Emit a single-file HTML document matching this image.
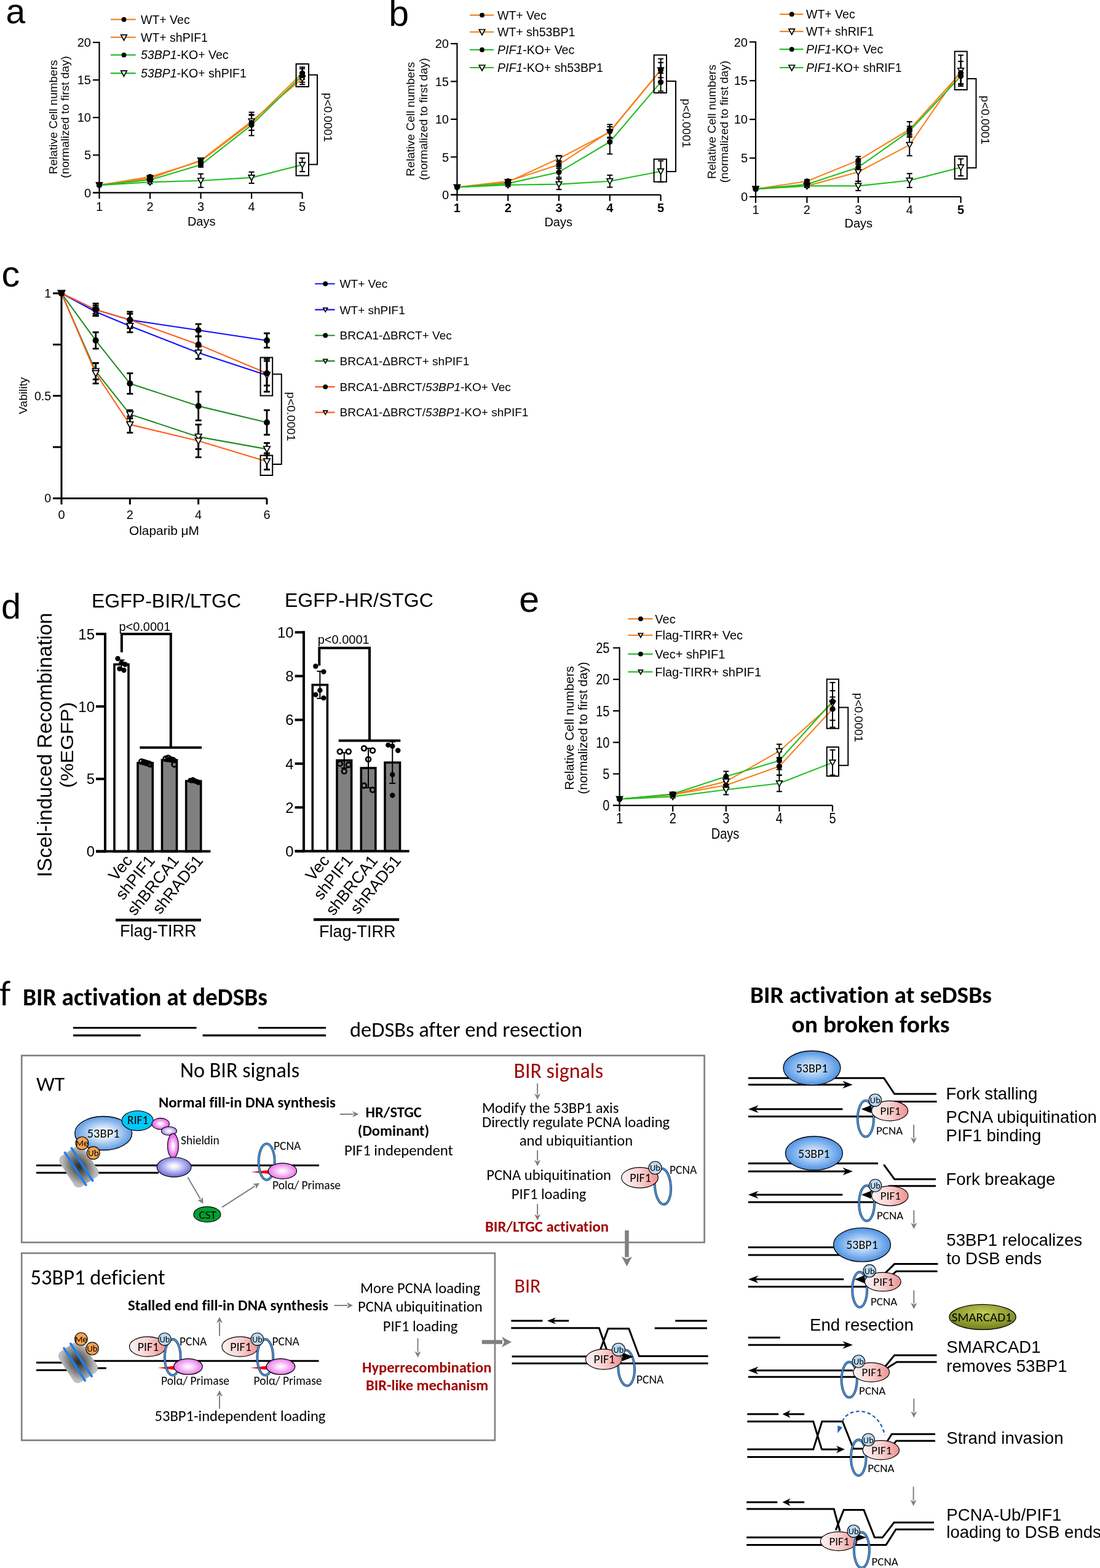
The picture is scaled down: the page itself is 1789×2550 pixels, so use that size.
<!DOCTYPE html>
<html><head><meta charset="utf-8"><title>Figure</title>
<style>
html,body{margin:0;padding:0;background:#fff;}
body{width:1789px;height:2550px;overflow:hidden;}
svg{display:block;}
</style></head>
<body>
<svg width="1789" height="2550" viewBox="0 0 1789 2550" style="font-variant-ligatures:none" font-family="'Liberation Sans', Arial, sans-serif">
<rect x="0" y="0" width="1789" height="2550" fill="#fff"/>
<defs>
<radialGradient id="g53" cx="50%" cy="50%" r="55%"><stop offset="0" stop-color="#ffffff"/><stop offset="0.25" stop-color="#e8f2fd"/><stop offset="1" stop-color="#4a8fe0"/></radialGradient>
<radialGradient id="g53b" cx="50%" cy="50%" r="55%"><stop offset="0" stop-color="#eef6ff"/><stop offset="0.3" stop-color="#b9d8fa"/><stop offset="1" stop-color="#3f88e0"/></radialGradient>
<radialGradient id="gPink" cx="50%" cy="50%" r="55%"><stop offset="0" stop-color="#ffffff"/><stop offset="0.2" stop-color="#fde8fd"/><stop offset="1" stop-color="#e040e0"/></radialGradient>
<radialGradient id="gLav" cx="50%" cy="50%" r="55%"><stop offset="0" stop-color="#ffffff"/><stop offset="0.2" stop-color="#f2eefe"/><stop offset="1" stop-color="#a47ae6"/></radialGradient>
<radialGradient id="gPurp" cx="50%" cy="45%" r="55%"><stop offset="0" stop-color="#ffffff"/><stop offset="0.2" stop-color="#eeeefe"/><stop offset="1" stop-color="#6666d8"/></radialGradient>
<radialGradient id="gPol" cx="50%" cy="50%" r="55%"><stop offset="0" stop-color="#ffffff"/><stop offset="0.2" stop-color="#fde6fd"/><stop offset="1" stop-color="#e66ae6"/></radialGradient>
<linearGradient id="gPIF" x1="0" y1="0" x2="1" y2="0"><stop offset="0" stop-color="#fdf2f2"/><stop offset="0.5" stop-color="#f9d2d2"/><stop offset="1" stop-color="#f18f8f"/></linearGradient>
<radialGradient id="gSm" cx="50%" cy="35%" r="60%"><stop offset="0" stop-color="#c4cf5a"/><stop offset="1" stop-color="#77861e"/></radialGradient>
<radialGradient id="gNuc" cx="50%" cy="50%" r="55%"><stop offset="0" stop-color="#2a2a2a"/><stop offset="0.45" stop-color="#6a6a6a"/><stop offset="1" stop-color="#bdbdbd"/></radialGradient>
</defs>
<text x="9.5" y="38" font-size="57">a</text>
<text x="632.3" y="41.5" font-size="59">b</text>
<text x="2.4" y="466" font-size="59.5">c</text>
<text x="2" y="1006" font-size="57.5">d</text>
<text x="844.3" y="995.3" font-size="59">e</text>
<polyline points="161.5,301.09 244.03,287.65 326.56,262 409.09,199.7 491.62,119.08" fill="none" stroke="#f7821b" stroke-width="2.1" stroke-linejoin="round"/>
<polyline points="161.5,301.09 244.03,290.09 326.56,260.78 409.09,197.26 491.62,127.63" fill="none" stroke="#f7821b" stroke-width="2.1" stroke-linejoin="round"/>
<polyline points="161.5,301.09 244.03,292.53 326.56,268.1 409.09,203.37 491.62,122.75" fill="none" stroke="#22bf22" stroke-width="2.1" stroke-linejoin="round"/>
<polyline points="161.5,301.09 244.03,296.2 326.56,293.76 409.09,288.87 491.62,268.1" fill="none" stroke="#22bf22" stroke-width="2.1" stroke-linejoin="round"/>
<line x1="244.03" y1="290.09" x2="244.03" y2="285.21" stroke="#000" stroke-width="2" />
<line x1="239.53" y1="290.09" x2="248.53" y2="290.09" stroke="#000" stroke-width="2" />
<line x1="239.53" y1="285.21" x2="248.53" y2="285.21" stroke="#000" stroke-width="2" />
<line x1="326.56" y1="265.66" x2="326.56" y2="258.33" stroke="#000" stroke-width="2" />
<line x1="322.06" y1="265.66" x2="331.06" y2="265.66" stroke="#000" stroke-width="2" />
<line x1="322.06" y1="258.33" x2="331.06" y2="258.33" stroke="#000" stroke-width="2" />
<line x1="409.09" y1="211.92" x2="409.09" y2="187.49" stroke="#000" stroke-width="2" />
<line x1="404.59" y1="211.92" x2="413.59" y2="211.92" stroke="#000" stroke-width="2" />
<line x1="404.59" y1="187.49" x2="413.59" y2="187.49" stroke="#000" stroke-width="2" />
<line x1="491.62" y1="128.85" x2="491.62" y2="109.31" stroke="#000" stroke-width="2" />
<line x1="487.12" y1="128.85" x2="496.12" y2="128.85" stroke="#000" stroke-width="2" />
<line x1="487.12" y1="109.31" x2="496.12" y2="109.31" stroke="#000" stroke-width="2" />
<line x1="244.03" y1="292.53" x2="244.03" y2="287.65" stroke="#000" stroke-width="2" />
<line x1="239.53" y1="292.53" x2="248.53" y2="292.53" stroke="#000" stroke-width="2" />
<line x1="239.53" y1="287.65" x2="248.53" y2="287.65" stroke="#000" stroke-width="2" />
<line x1="326.56" y1="264.44" x2="326.56" y2="257.11" stroke="#000" stroke-width="2" />
<line x1="322.06" y1="264.44" x2="331.06" y2="264.44" stroke="#000" stroke-width="2" />
<line x1="322.06" y1="257.11" x2="331.06" y2="257.11" stroke="#000" stroke-width="2" />
<line x1="409.09" y1="211.92" x2="409.09" y2="182.6" stroke="#000" stroke-width="2" />
<line x1="404.59" y1="211.92" x2="413.59" y2="211.92" stroke="#000" stroke-width="2" />
<line x1="404.59" y1="182.6" x2="413.59" y2="182.6" stroke="#000" stroke-width="2" />
<line x1="491.62" y1="137.4" x2="491.62" y2="117.86" stroke="#000" stroke-width="2" />
<line x1="487.12" y1="137.4" x2="496.12" y2="137.4" stroke="#000" stroke-width="2" />
<line x1="487.12" y1="117.86" x2="496.12" y2="117.86" stroke="#000" stroke-width="2" />
<line x1="244.03" y1="294.98" x2="244.03" y2="290.09" stroke="#000" stroke-width="2" />
<line x1="239.53" y1="294.98" x2="248.53" y2="294.98" stroke="#000" stroke-width="2" />
<line x1="239.53" y1="290.09" x2="248.53" y2="290.09" stroke="#000" stroke-width="2" />
<line x1="326.56" y1="271.77" x2="326.56" y2="264.44" stroke="#000" stroke-width="2" />
<line x1="322.06" y1="271.77" x2="331.06" y2="271.77" stroke="#000" stroke-width="2" />
<line x1="322.06" y1="264.44" x2="331.06" y2="264.44" stroke="#000" stroke-width="2" />
<line x1="409.09" y1="220.47" x2="409.09" y2="186.26" stroke="#000" stroke-width="2" />
<line x1="404.59" y1="220.47" x2="413.59" y2="220.47" stroke="#000" stroke-width="2" />
<line x1="404.59" y1="186.26" x2="413.59" y2="186.26" stroke="#000" stroke-width="2" />
<line x1="491.62" y1="133.74" x2="491.62" y2="111.75" stroke="#000" stroke-width="2" />
<line x1="487.12" y1="133.74" x2="496.12" y2="133.74" stroke="#000" stroke-width="2" />
<line x1="487.12" y1="111.75" x2="496.12" y2="111.75" stroke="#000" stroke-width="2" />
<line x1="244.03" y1="298.64" x2="244.03" y2="293.76" stroke="#000" stroke-width="2" />
<line x1="239.53" y1="298.64" x2="248.53" y2="298.64" stroke="#000" stroke-width="2" />
<line x1="239.53" y1="293.76" x2="248.53" y2="293.76" stroke="#000" stroke-width="2" />
<line x1="326.56" y1="304.75" x2="326.56" y2="282.76" stroke="#000" stroke-width="2" />
<line x1="322.06" y1="304.75" x2="331.06" y2="304.75" stroke="#000" stroke-width="2" />
<line x1="322.06" y1="282.76" x2="331.06" y2="282.76" stroke="#000" stroke-width="2" />
<line x1="409.09" y1="298.03" x2="409.09" y2="279.71" stroke="#000" stroke-width="2" />
<line x1="404.59" y1="298.03" x2="413.59" y2="298.03" stroke="#000" stroke-width="2" />
<line x1="404.59" y1="279.71" x2="413.59" y2="279.71" stroke="#000" stroke-width="2" />
<line x1="491.62" y1="279.1" x2="491.62" y2="257.11" stroke="#000" stroke-width="2" />
<line x1="487.12" y1="279.1" x2="496.12" y2="279.1" stroke="#000" stroke-width="2" />
<line x1="487.12" y1="257.11" x2="496.12" y2="257.11" stroke="#000" stroke-width="2" />
<polygon points="156.7,297.09 166.3,297.09 161.5,305.99" fill="#fff" stroke="#000" stroke-width="1.7" stroke-linejoin="miter"/>
<polygon points="239.23,286.09 248.83,286.09 244.03,294.99" fill="#fff" stroke="#000" stroke-width="1.7" stroke-linejoin="miter"/>
<polygon points="321.76,256.78 331.36,256.78 326.56,265.68" fill="#fff" stroke="#000" stroke-width="1.7" stroke-linejoin="miter"/>
<polygon points="404.29,193.26 413.89,193.26 409.09,202.16" fill="#fff" stroke="#000" stroke-width="1.7" stroke-linejoin="miter"/>
<polygon points="486.82,123.63 496.42,123.63 491.62,132.53" fill="#fff" stroke="#000" stroke-width="1.7" stroke-linejoin="miter"/>
<polygon points="156.7,297.09 166.3,297.09 161.5,305.99" fill="#fff" stroke="#000" stroke-width="1.7" stroke-linejoin="miter"/>
<polygon points="239.23,292.2 248.83,292.2 244.03,301.1" fill="#fff" stroke="#000" stroke-width="1.7" stroke-linejoin="miter"/>
<polygon points="321.76,289.76 331.36,289.76 326.56,298.66" fill="#fff" stroke="#000" stroke-width="1.7" stroke-linejoin="miter"/>
<polygon points="404.29,284.87 413.89,284.87 409.09,293.77" fill="#fff" stroke="#000" stroke-width="1.7" stroke-linejoin="miter"/>
<polygon points="486.82,264.1 496.42,264.1 491.62,273" fill="#fff" stroke="#000" stroke-width="1.7" stroke-linejoin="miter"/>
<circle cx="161.5" cy="301.09" r="4.6" fill="#000" stroke="none" stroke-width="1" />
<circle cx="244.03" cy="287.65" r="4.6" fill="#000" stroke="none" stroke-width="1" />
<circle cx="326.56" cy="262" r="4.6" fill="#000" stroke="none" stroke-width="1" />
<circle cx="409.09" cy="199.7" r="4.6" fill="#000" stroke="none" stroke-width="1" />
<circle cx="491.62" cy="119.08" r="4.6" fill="#000" stroke="none" stroke-width="1" />
<circle cx="161.5" cy="301.09" r="4.6" fill="#000" stroke="none" stroke-width="1" />
<circle cx="244.03" cy="292.53" r="4.6" fill="#000" stroke="none" stroke-width="1" />
<circle cx="326.56" cy="268.1" r="4.6" fill="#000" stroke="none" stroke-width="1" />
<circle cx="409.09" cy="203.37" r="4.6" fill="#000" stroke="none" stroke-width="1" />
<circle cx="491.62" cy="122.75" r="4.6" fill="#000" stroke="none" stroke-width="1" />
<line x1="161.5" y1="69" x2="161.5" y2="313.3" stroke="#000" stroke-width="2.2" stroke-linecap="square"/>
<line x1="151" y1="313.3" x2="491.6" y2="313.3" stroke="#000" stroke-width="2.2" />
<line x1="151" y1="313.3" x2="161.5" y2="313.3" stroke="#000" stroke-width="2.2" />
<line x1="151" y1="252.23" x2="161.5" y2="252.23" stroke="#000" stroke-width="2.2" />
<line x1="151" y1="191.15" x2="161.5" y2="191.15" stroke="#000" stroke-width="2.2" />
<line x1="151" y1="130.08" x2="161.5" y2="130.08" stroke="#000" stroke-width="2.2" />
<line x1="151" y1="69" x2="161.5" y2="69" stroke="#000" stroke-width="2.2" />
<text x="148" y="320.5" font-size="20" text-anchor="end">0</text>
<text x="148" y="259.43" font-size="20" text-anchor="end">5</text>
<text x="148" y="198.35" font-size="20" text-anchor="end">10</text>
<text x="148" y="137.28" font-size="20" text-anchor="end">15</text>
<text x="148" y="76.2" font-size="20" text-anchor="end">20</text>
<line x1="161.5" y1="313.3" x2="161.5" y2="323.3" stroke="#000" stroke-width="2.2" />
<text x="161.5" y="342.6" font-size="20" text-anchor="middle">1</text>
<line x1="244.03" y1="313.3" x2="244.03" y2="323.3" stroke="#000" stroke-width="2.2" />
<text x="244.03" y="342.6" font-size="20" text-anchor="middle">2</text>
<line x1="326.56" y1="313.3" x2="326.56" y2="323.3" stroke="#000" stroke-width="2.2" />
<text x="326.56" y="342.6" font-size="20" text-anchor="middle">3</text>
<line x1="409.09" y1="313.3" x2="409.09" y2="323.3" stroke="#000" stroke-width="2.2" />
<text x="409.09" y="342.6" font-size="20" text-anchor="middle">4</text>
<line x1="491.62" y1="313.3" x2="491.62" y2="323.3" stroke="#000" stroke-width="2.2" />
<text x="491.62" y="342.6" font-size="20" text-anchor="middle">5</text>
<text x="327.7" y="366.9" font-size="20" text-anchor="middle">Days</text>
<text x="93.5" y="190.4" font-size="19" text-anchor="middle" transform="rotate(-90 93.5 190.4)">Relative Cell numbers</text>
<text x="112" y="190.4" font-size="19" text-anchor="middle" transform="rotate(-90 112 190.4)">(normalized to first day)</text>
<rect x="481.6" y="104" width="20.4" height="37" fill="none" stroke="#000" stroke-width="2" />
<rect x="481.6" y="249" width="20.4" height="36.6" fill="none" stroke="#000" stroke-width="2" />
<polyline points="502,121.8 516,121.8 516,267.4 502,267.4" fill="none" stroke="#000" stroke-width="2" />
<text x="527" y="191" font-size="19" text-anchor="middle" transform="rotate(90 527 191)">p&lt;0.0001</text>
<line x1="180" y1="31.7" x2="220.7" y2="31.7" stroke="#f7821b" stroke-width="2.2" />
<circle cx="201.5" cy="31.7" r="3.91" fill="#000" stroke="none" stroke-width="1" />
<text x="229" y="38.72" font-size="19.5">WT+ Vec</text>
<line x1="180" y1="60.7" x2="220.7" y2="60.7" stroke="#f7821b" stroke-width="2.2" />
<polygon points="196.7,56.7 206.3,56.7 201.5,65.6" fill="#fff" stroke="#000" stroke-width="1.7" stroke-linejoin="miter"/>
<text x="229" y="67.72" font-size="19.5">WT+ shPIF1</text>
<line x1="180" y1="89.4" x2="220.7" y2="89.4" stroke="#22bf22" stroke-width="2.2" />
<circle cx="201.5" cy="89.4" r="3.91" fill="#000" stroke="none" stroke-width="1" />
<text x="229" y="96.42" font-size="19.5"><tspan font-style="italic">53BP1</tspan>-KO+ Vec</text>
<line x1="180" y1="119.2" x2="220.7" y2="119.2" stroke="#22bf22" stroke-width="2.2" />
<polygon points="196.7,115.2 206.3,115.2 201.5,124.1" fill="#fff" stroke="#000" stroke-width="1.7" stroke-linejoin="miter"/>
<text x="229" y="126.22" font-size="19.5"><tspan font-style="italic">53BP1</tspan>-KO+ shPIF1</text>
<polyline points="743.4,304.51 826.2,294.68 909,267.64 991.8,213.56 1074.6,114.02" fill="none" stroke="#f7821b" stroke-width="2.1" stroke-linejoin="round"/>
<polyline points="743.4,304.51 826.2,295.91 909,257.81 991.8,214.79 1074.6,114.02" fill="none" stroke="#f7821b" stroke-width="2.1" stroke-linejoin="round"/>
<polyline points="743.4,304.51 826.2,298.37 909,279.93 991.8,230.77 1074.6,133.68" fill="none" stroke="#22bf22" stroke-width="2.1" stroke-linejoin="round"/>
<polyline points="743.4,304.51 826.2,300.82 909,299.59 991.8,294.68 1074.6,278.7" fill="none" stroke="#22bf22" stroke-width="2.1" stroke-linejoin="round"/>
<line x1="826.2" y1="297.14" x2="826.2" y2="292.22" stroke="#000" stroke-width="2" />
<line x1="821.7" y1="297.14" x2="830.7" y2="297.14" stroke="#000" stroke-width="2" />
<line x1="821.7" y1="292.22" x2="830.7" y2="292.22" stroke="#000" stroke-width="2" />
<line x1="909" y1="273.79" x2="909" y2="261.5" stroke="#000" stroke-width="2" />
<line x1="904.5" y1="273.79" x2="913.5" y2="273.79" stroke="#000" stroke-width="2" />
<line x1="904.5" y1="261.5" x2="913.5" y2="261.5" stroke="#000" stroke-width="2" />
<line x1="991.8" y1="224.62" x2="991.8" y2="202.5" stroke="#000" stroke-width="2" />
<line x1="987.3" y1="224.62" x2="996.3" y2="224.62" stroke="#000" stroke-width="2" />
<line x1="987.3" y1="202.5" x2="996.3" y2="202.5" stroke="#000" stroke-width="2" />
<line x1="1074.6" y1="126.31" x2="1074.6" y2="101.73" stroke="#000" stroke-width="2" />
<line x1="1070.1" y1="126.31" x2="1079.1" y2="126.31" stroke="#000" stroke-width="2" />
<line x1="1070.1" y1="101.73" x2="1079.1" y2="101.73" stroke="#000" stroke-width="2" />
<line x1="826.2" y1="298.37" x2="826.2" y2="293.45" stroke="#000" stroke-width="2" />
<line x1="821.7" y1="298.37" x2="830.7" y2="298.37" stroke="#000" stroke-width="2" />
<line x1="821.7" y1="293.45" x2="830.7" y2="293.45" stroke="#000" stroke-width="2" />
<line x1="909" y1="262.72" x2="909" y2="252.89" stroke="#000" stroke-width="2" />
<line x1="904.5" y1="262.72" x2="913.5" y2="262.72" stroke="#000" stroke-width="2" />
<line x1="904.5" y1="252.89" x2="913.5" y2="252.89" stroke="#000" stroke-width="2" />
<line x1="991.8" y1="223.4" x2="991.8" y2="206.19" stroke="#000" stroke-width="2" />
<line x1="987.3" y1="223.4" x2="996.3" y2="223.4" stroke="#000" stroke-width="2" />
<line x1="987.3" y1="206.19" x2="996.3" y2="206.19" stroke="#000" stroke-width="2" />
<line x1="1074.6" y1="132.45" x2="1074.6" y2="95.58" stroke="#000" stroke-width="2" />
<line x1="1070.1" y1="132.45" x2="1079.1" y2="132.45" stroke="#000" stroke-width="2" />
<line x1="1070.1" y1="95.58" x2="1079.1" y2="95.58" stroke="#000" stroke-width="2" />
<line x1="826.2" y1="300.82" x2="826.2" y2="295.91" stroke="#000" stroke-width="2" />
<line x1="821.7" y1="300.82" x2="830.7" y2="300.82" stroke="#000" stroke-width="2" />
<line x1="821.7" y1="295.91" x2="830.7" y2="295.91" stroke="#000" stroke-width="2" />
<line x1="909" y1="288.53" x2="909" y2="271.33" stroke="#000" stroke-width="2" />
<line x1="904.5" y1="288.53" x2="913.5" y2="288.53" stroke="#000" stroke-width="2" />
<line x1="904.5" y1="271.33" x2="913.5" y2="271.33" stroke="#000" stroke-width="2" />
<line x1="991.8" y1="250.43" x2="991.8" y2="211.11" stroke="#000" stroke-width="2" />
<line x1="987.3" y1="250.43" x2="996.3" y2="250.43" stroke="#000" stroke-width="2" />
<line x1="987.3" y1="211.11" x2="996.3" y2="211.11" stroke="#000" stroke-width="2" />
<line x1="1074.6" y1="148.43" x2="1074.6" y2="118.93" stroke="#000" stroke-width="2" />
<line x1="1070.1" y1="148.43" x2="1079.1" y2="148.43" stroke="#000" stroke-width="2" />
<line x1="1070.1" y1="118.93" x2="1079.1" y2="118.93" stroke="#000" stroke-width="2" />
<line x1="826.2" y1="303.28" x2="826.2" y2="298.37" stroke="#000" stroke-width="2" />
<line x1="821.7" y1="303.28" x2="830.7" y2="303.28" stroke="#000" stroke-width="2" />
<line x1="821.7" y1="298.37" x2="830.7" y2="298.37" stroke="#000" stroke-width="2" />
<line x1="909" y1="308.2" x2="909" y2="290.99" stroke="#000" stroke-width="2" />
<line x1="904.5" y1="308.2" x2="913.5" y2="308.2" stroke="#000" stroke-width="2" />
<line x1="904.5" y1="290.99" x2="913.5" y2="290.99" stroke="#000" stroke-width="2" />
<line x1="991.8" y1="304.51" x2="991.8" y2="284.85" stroke="#000" stroke-width="2" />
<line x1="987.3" y1="304.51" x2="996.3" y2="304.51" stroke="#000" stroke-width="2" />
<line x1="987.3" y1="284.85" x2="996.3" y2="284.85" stroke="#000" stroke-width="2" />
<line x1="1074.6" y1="295.91" x2="1074.6" y2="261.5" stroke="#000" stroke-width="2" />
<line x1="1070.1" y1="295.91" x2="1079.1" y2="295.91" stroke="#000" stroke-width="2" />
<line x1="1070.1" y1="261.5" x2="1079.1" y2="261.5" stroke="#000" stroke-width="2" />
<polygon points="738.6,300.51 748.2,300.51 743.4,309.41" fill="#fff" stroke="#000" stroke-width="1.7" stroke-linejoin="miter"/>
<polygon points="821.4,291.91 831,291.91 826.2,300.81" fill="#fff" stroke="#000" stroke-width="1.7" stroke-linejoin="miter"/>
<polygon points="904.2,253.81 913.8,253.81 909,262.71" fill="#fff" stroke="#000" stroke-width="1.7" stroke-linejoin="miter"/>
<polygon points="987,210.79 996.6,210.79 991.8,219.69" fill="#fff" stroke="#000" stroke-width="1.7" stroke-linejoin="miter"/>
<polygon points="1069.8,110.02 1079.4,110.02 1074.6,118.92" fill="#fff" stroke="#000" stroke-width="1.7" stroke-linejoin="miter"/>
<polygon points="738.6,300.51 748.2,300.51 743.4,309.41" fill="#fff" stroke="#000" stroke-width="1.7" stroke-linejoin="miter"/>
<polygon points="821.4,296.82 831,296.82 826.2,305.72" fill="#fff" stroke="#000" stroke-width="1.7" stroke-linejoin="miter"/>
<polygon points="904.2,295.59 913.8,295.59 909,304.49" fill="#fff" stroke="#000" stroke-width="1.7" stroke-linejoin="miter"/>
<polygon points="987,290.68 996.6,290.68 991.8,299.58" fill="#fff" stroke="#000" stroke-width="1.7" stroke-linejoin="miter"/>
<polygon points="1069.8,274.7 1079.4,274.7 1074.6,283.6" fill="#fff" stroke="#000" stroke-width="1.7" stroke-linejoin="miter"/>
<circle cx="743.4" cy="304.51" r="4.6" fill="#000" stroke="none" stroke-width="1" />
<circle cx="826.2" cy="294.68" r="4.6" fill="#000" stroke="none" stroke-width="1" />
<circle cx="909" cy="267.64" r="4.6" fill="#000" stroke="none" stroke-width="1" />
<circle cx="991.8" cy="213.56" r="4.6" fill="#000" stroke="none" stroke-width="1" />
<circle cx="1074.6" cy="114.02" r="4.6" fill="#000" stroke="none" stroke-width="1" />
<circle cx="743.4" cy="304.51" r="4.6" fill="#000" stroke="none" stroke-width="1" />
<circle cx="826.2" cy="298.37" r="4.6" fill="#000" stroke="none" stroke-width="1" />
<circle cx="909" cy="279.93" r="4.6" fill="#000" stroke="none" stroke-width="1" />
<circle cx="991.8" cy="230.77" r="4.6" fill="#000" stroke="none" stroke-width="1" />
<circle cx="1074.6" cy="133.68" r="4.6" fill="#000" stroke="none" stroke-width="1" />
<line x1="743.4" y1="71" x2="743.4" y2="316.8" stroke="#000" stroke-width="2.2" stroke-linecap="square"/>
<line x1="733" y1="316.8" x2="1074.6" y2="316.8" stroke="#000" stroke-width="2.2" />
<line x1="733" y1="316.8" x2="743.4" y2="316.8" stroke="#000" stroke-width="2.2" />
<line x1="733" y1="255.35" x2="743.4" y2="255.35" stroke="#000" stroke-width="2.2" />
<line x1="733" y1="193.9" x2="743.4" y2="193.9" stroke="#000" stroke-width="2.2" />
<line x1="733" y1="132.45" x2="743.4" y2="132.45" stroke="#000" stroke-width="2.2" />
<line x1="733" y1="71" x2="743.4" y2="71" stroke="#000" stroke-width="2.2" />
<text x="730" y="324" font-size="20" text-anchor="end">0</text>
<text x="730" y="262.55" font-size="20" text-anchor="end">5</text>
<text x="730" y="201.1" font-size="20" text-anchor="end">10</text>
<text x="730" y="139.65" font-size="20" text-anchor="end">15</text>
<text x="730" y="78.2" font-size="20" text-anchor="end">20</text>
<line x1="743.4" y1="316.8" x2="743.4" y2="326.8" stroke="#000" stroke-width="2.2" />
<text x="743.4" y="344.8" font-size="20" text-anchor="middle" font-weight="bold">1</text>
<line x1="826.2" y1="316.8" x2="826.2" y2="326.8" stroke="#000" stroke-width="2.2" />
<text x="826.2" y="344.8" font-size="20" text-anchor="middle" font-weight="bold">2</text>
<line x1="909" y1="316.8" x2="909" y2="326.8" stroke="#000" stroke-width="2.2" />
<text x="909" y="344.8" font-size="20" text-anchor="middle" font-weight="bold">3</text>
<line x1="991.8" y1="316.8" x2="991.8" y2="326.8" stroke="#000" stroke-width="2.2" />
<text x="991.8" y="344.8" font-size="20" text-anchor="middle" font-weight="bold">4</text>
<line x1="1074.6" y1="316.8" x2="1074.6" y2="326.8" stroke="#000" stroke-width="2.2" />
<text x="1074.6" y="344.8" font-size="20" text-anchor="middle" font-weight="bold">5</text>
<text x="908.2" y="368" font-size="20" text-anchor="middle">Days</text>
<text x="674.4" y="193.7" font-size="19" text-anchor="middle" transform="rotate(-90 674.4 193.7)">Relative Cell numbers</text>
<text x="695" y="193.7" font-size="19" text-anchor="middle" transform="rotate(-90 695 193.7)">(normalized to first day)</text>
<rect x="1063.6" y="89.5" width="20.4" height="61.5" fill="none" stroke="#000" stroke-width="2" />
<rect x="1063.6" y="258.8" width="20.4" height="36.9" fill="none" stroke="#000" stroke-width="2" />
<polyline points="1084,132 1099,132 1099,279 1084,279" fill="none" stroke="#000" stroke-width="2" />
<text x="1109.5" y="200.4" font-size="19" text-anchor="middle" transform="rotate(90 1109.5 200.4)">p&lt;0.0001</text>
<line x1="764" y1="24.6" x2="803" y2="24.6" stroke="#f7821b" stroke-width="2.2" />
<circle cx="784" cy="24.6" r="3.91" fill="#000" stroke="none" stroke-width="1" />
<text x="809" y="31.62" font-size="19.5">WT+ Vec</text>
<line x1="764" y1="52" x2="803" y2="52" stroke="#f7821b" stroke-width="2.2" />
<polygon points="779.2,48 788.8,48 784,56.9" fill="#fff" stroke="#000" stroke-width="1.7" stroke-linejoin="miter"/>
<text x="809" y="59.02" font-size="19.5">WT+ sh53BP1</text>
<line x1="764" y1="81" x2="803" y2="81" stroke="#22bf22" stroke-width="2.2" />
<circle cx="784" cy="81" r="3.91" fill="#000" stroke="none" stroke-width="1" />
<text x="809" y="88.02" font-size="19.5"><tspan font-style="italic">PIF1</tspan>-KO+ Vec</text>
<line x1="764" y1="110" x2="803" y2="110" stroke="#22bf22" stroke-width="2.2" />
<polygon points="779.2,106 788.8,106 784,114.9" fill="#fff" stroke="#000" stroke-width="1.7" stroke-linejoin="miter"/>
<text x="809" y="117.02" font-size="19.5"><tspan font-style="italic">PIF1</tspan>-KO+ sh53BP1</text>
<polyline points="1229,307.42 1312.4,294.83 1395.8,260.85 1479.2,210.51 1562.6,118.64" fill="none" stroke="#f7821b" stroke-width="2.1" stroke-linejoin="round"/>
<polyline points="1229,307.42 1312.4,302.38 1395.8,279.73 1479.2,235.68 1562.6,114.86" fill="none" stroke="#f7821b" stroke-width="2.1" stroke-linejoin="round"/>
<polyline points="1229,307.42 1312.4,299.86 1395.8,272.18 1479.2,213.03 1562.6,123.67" fill="none" stroke="#22bf22" stroke-width="2.1" stroke-linejoin="round"/>
<polyline points="1229,307.42 1312.4,302.38 1395.8,302.38 1479.2,293.57 1562.6,272.18" fill="none" stroke="#22bf22" stroke-width="2.1" stroke-linejoin="round"/>
<line x1="1312.4" y1="297.35" x2="1312.4" y2="292.31" stroke="#000" stroke-width="2" />
<line x1="1307.9" y1="297.35" x2="1316.9" y2="297.35" stroke="#000" stroke-width="2" />
<line x1="1307.9" y1="292.31" x2="1316.9" y2="292.31" stroke="#000" stroke-width="2" />
<line x1="1395.8" y1="267.14" x2="1395.8" y2="254.56" stroke="#000" stroke-width="2" />
<line x1="1391.3" y1="267.14" x2="1400.3" y2="267.14" stroke="#000" stroke-width="2" />
<line x1="1391.3" y1="254.56" x2="1400.3" y2="254.56" stroke="#000" stroke-width="2" />
<line x1="1479.2" y1="223.1" x2="1479.2" y2="197.93" stroke="#000" stroke-width="2" />
<line x1="1474.7" y1="223.1" x2="1483.7" y2="223.1" stroke="#000" stroke-width="2" />
<line x1="1474.7" y1="197.93" x2="1483.7" y2="197.93" stroke="#000" stroke-width="2" />
<line x1="1562.6" y1="137.52" x2="1562.6" y2="99.76" stroke="#000" stroke-width="2" />
<line x1="1558.1" y1="137.52" x2="1567.1" y2="137.52" stroke="#000" stroke-width="2" />
<line x1="1558.1" y1="99.76" x2="1567.1" y2="99.76" stroke="#000" stroke-width="2" />
<line x1="1312.4" y1="304.9" x2="1312.4" y2="299.86" stroke="#000" stroke-width="2" />
<line x1="1307.9" y1="304.9" x2="1316.9" y2="304.9" stroke="#000" stroke-width="2" />
<line x1="1307.9" y1="299.86" x2="1316.9" y2="299.86" stroke="#000" stroke-width="2" />
<line x1="1395.8" y1="294.83" x2="1395.8" y2="264.63" stroke="#000" stroke-width="2" />
<line x1="1391.3" y1="294.83" x2="1400.3" y2="294.83" stroke="#000" stroke-width="2" />
<line x1="1391.3" y1="264.63" x2="1400.3" y2="264.63" stroke="#000" stroke-width="2" />
<line x1="1479.2" y1="253.3" x2="1479.2" y2="218.06" stroke="#000" stroke-width="2" />
<line x1="1474.7" y1="253.3" x2="1483.7" y2="253.3" stroke="#000" stroke-width="2" />
<line x1="1474.7" y1="218.06" x2="1483.7" y2="218.06" stroke="#000" stroke-width="2" />
<line x1="1562.6" y1="140.03" x2="1562.6" y2="89.69" stroke="#000" stroke-width="2" />
<line x1="1558.1" y1="140.03" x2="1567.1" y2="140.03" stroke="#000" stroke-width="2" />
<line x1="1558.1" y1="89.69" x2="1567.1" y2="89.69" stroke="#000" stroke-width="2" />
<line x1="1312.4" y1="302.38" x2="1312.4" y2="297.35" stroke="#000" stroke-width="2" />
<line x1="1307.9" y1="302.38" x2="1316.9" y2="302.38" stroke="#000" stroke-width="2" />
<line x1="1307.9" y1="297.35" x2="1316.9" y2="297.35" stroke="#000" stroke-width="2" />
<line x1="1395.8" y1="277.21" x2="1395.8" y2="267.14" stroke="#000" stroke-width="2" />
<line x1="1391.3" y1="277.21" x2="1400.3" y2="277.21" stroke="#000" stroke-width="2" />
<line x1="1391.3" y1="267.14" x2="1400.3" y2="267.14" stroke="#000" stroke-width="2" />
<line x1="1479.2" y1="220.58" x2="1479.2" y2="205.48" stroke="#000" stroke-width="2" />
<line x1="1474.7" y1="220.58" x2="1483.7" y2="220.58" stroke="#000" stroke-width="2" />
<line x1="1474.7" y1="205.48" x2="1483.7" y2="205.48" stroke="#000" stroke-width="2" />
<line x1="1562.6" y1="136.26" x2="1562.6" y2="111.09" stroke="#000" stroke-width="2" />
<line x1="1558.1" y1="136.26" x2="1567.1" y2="136.26" stroke="#000" stroke-width="2" />
<line x1="1558.1" y1="111.09" x2="1567.1" y2="111.09" stroke="#000" stroke-width="2" />
<line x1="1312.4" y1="304.9" x2="1312.4" y2="299.86" stroke="#000" stroke-width="2" />
<line x1="1307.9" y1="304.9" x2="1316.9" y2="304.9" stroke="#000" stroke-width="2" />
<line x1="1307.9" y1="299.86" x2="1316.9" y2="299.86" stroke="#000" stroke-width="2" />
<line x1="1395.8" y1="309.93" x2="1395.8" y2="294.83" stroke="#000" stroke-width="2" />
<line x1="1391.3" y1="309.93" x2="1400.3" y2="309.93" stroke="#000" stroke-width="2" />
<line x1="1391.3" y1="294.83" x2="1400.3" y2="294.83" stroke="#000" stroke-width="2" />
<line x1="1479.2" y1="304.9" x2="1479.2" y2="282.25" stroke="#000" stroke-width="2" />
<line x1="1474.7" y1="304.9" x2="1483.7" y2="304.9" stroke="#000" stroke-width="2" />
<line x1="1474.7" y1="282.25" x2="1483.7" y2="282.25" stroke="#000" stroke-width="2" />
<line x1="1562.6" y1="286.02" x2="1562.6" y2="258.33" stroke="#000" stroke-width="2" />
<line x1="1558.1" y1="286.02" x2="1567.1" y2="286.02" stroke="#000" stroke-width="2" />
<line x1="1558.1" y1="258.33" x2="1567.1" y2="258.33" stroke="#000" stroke-width="2" />
<polygon points="1224.2,303.42 1233.8,303.42 1229,312.31" fill="#fff" stroke="#000" stroke-width="1.7" stroke-linejoin="miter"/>
<polygon points="1307.6,298.38 1317.2,298.38 1312.4,307.28" fill="#fff" stroke="#000" stroke-width="1.7" stroke-linejoin="miter"/>
<polygon points="1391,275.73 1400.6,275.73 1395.8,284.63" fill="#fff" stroke="#000" stroke-width="1.7" stroke-linejoin="miter"/>
<polygon points="1474.4,231.68 1484,231.68 1479.2,240.58" fill="#fff" stroke="#000" stroke-width="1.7" stroke-linejoin="miter"/>
<polygon points="1557.8,110.86 1567.4,110.86 1562.6,119.76" fill="#fff" stroke="#000" stroke-width="1.7" stroke-linejoin="miter"/>
<polygon points="1224.2,303.42 1233.8,303.42 1229,312.31" fill="#fff" stroke="#000" stroke-width="1.7" stroke-linejoin="miter"/>
<polygon points="1307.6,298.38 1317.2,298.38 1312.4,307.28" fill="#fff" stroke="#000" stroke-width="1.7" stroke-linejoin="miter"/>
<polygon points="1391,298.38 1400.6,298.38 1395.8,307.28" fill="#fff" stroke="#000" stroke-width="1.7" stroke-linejoin="miter"/>
<polygon points="1474.4,289.57 1484,289.57 1479.2,298.47" fill="#fff" stroke="#000" stroke-width="1.7" stroke-linejoin="miter"/>
<polygon points="1557.8,268.18 1567.4,268.18 1562.6,277.08" fill="#fff" stroke="#000" stroke-width="1.7" stroke-linejoin="miter"/>
<circle cx="1229" cy="307.42" r="4.6" fill="#000" stroke="none" stroke-width="1" />
<circle cx="1312.4" cy="294.83" r="4.6" fill="#000" stroke="none" stroke-width="1" />
<circle cx="1395.8" cy="260.85" r="4.6" fill="#000" stroke="none" stroke-width="1" />
<circle cx="1479.2" cy="210.51" r="4.6" fill="#000" stroke="none" stroke-width="1" />
<circle cx="1562.6" cy="118.64" r="4.6" fill="#000" stroke="none" stroke-width="1" />
<circle cx="1229" cy="307.42" r="4.6" fill="#000" stroke="none" stroke-width="1" />
<circle cx="1312.4" cy="299.86" r="4.6" fill="#000" stroke="none" stroke-width="1" />
<circle cx="1395.8" cy="272.18" r="4.6" fill="#000" stroke="none" stroke-width="1" />
<circle cx="1479.2" cy="213.03" r="4.6" fill="#000" stroke="none" stroke-width="1" />
<circle cx="1562.6" cy="123.67" r="4.6" fill="#000" stroke="none" stroke-width="1" />
<line x1="1229" y1="68.3" x2="1229" y2="320" stroke="#000" stroke-width="2.2" stroke-linecap="square"/>
<line x1="1219" y1="320" x2="1562.6" y2="320" stroke="#000" stroke-width="2.2" />
<line x1="1219" y1="320" x2="1229" y2="320" stroke="#000" stroke-width="2.2" />
<line x1="1219" y1="257.07" x2="1229" y2="257.07" stroke="#000" stroke-width="2.2" />
<line x1="1219" y1="194.15" x2="1229" y2="194.15" stroke="#000" stroke-width="2.2" />
<line x1="1219" y1="131.22" x2="1229" y2="131.22" stroke="#000" stroke-width="2.2" />
<line x1="1219" y1="68.3" x2="1229" y2="68.3" stroke="#000" stroke-width="2.2" />
<text x="1216" y="327.2" font-size="20" text-anchor="end">0</text>
<text x="1216" y="264.27" font-size="20" text-anchor="end">5</text>
<text x="1216" y="201.35" font-size="20" text-anchor="end">10</text>
<text x="1216" y="138.42" font-size="20" text-anchor="end">15</text>
<text x="1216" y="75.5" font-size="20" text-anchor="end">20</text>
<line x1="1229" y1="320" x2="1229" y2="330" stroke="#000" stroke-width="2.2" />
<text x="1229" y="347.6" font-size="20" text-anchor="middle">1</text>
<line x1="1312.4" y1="320" x2="1312.4" y2="330" stroke="#000" stroke-width="2.2" />
<text x="1312.4" y="347.6" font-size="20" text-anchor="middle">2</text>
<line x1="1395.8" y1="320" x2="1395.8" y2="330" stroke="#000" stroke-width="2.2" />
<text x="1395.8" y="347.6" font-size="20" text-anchor="middle">3</text>
<line x1="1479.2" y1="320" x2="1479.2" y2="330" stroke="#000" stroke-width="2.2" />
<text x="1479.2" y="347.6" font-size="20" text-anchor="middle">4</text>
<line x1="1562.6" y1="320" x2="1562.6" y2="330" stroke="#000" stroke-width="2.2" />
<text x="1562.6" y="347.6" font-size="20" text-anchor="middle" font-weight="bold">5</text>
<text x="1396.3" y="370.4" font-size="20" text-anchor="middle">Days</text>
<text x="1164" y="198" font-size="19" text-anchor="middle" transform="rotate(-90 1164 198)">Relative Cell numbers</text>
<text x="1184" y="198" font-size="19" text-anchor="middle" transform="rotate(-90 1184 198)">(normalized to first day)</text>
<rect x="1552.7" y="83.6" width="20.1" height="62.4" fill="none" stroke="#000" stroke-width="2" />
<rect x="1552.7" y="254" width="20.1" height="37" fill="none" stroke="#000" stroke-width="2" />
<polyline points="1572.8,128 1587.5,128 1587.5,273 1572.8,273" fill="none" stroke="#000" stroke-width="2" />
<text x="1595.5" y="195.3" font-size="19" text-anchor="middle" transform="rotate(90 1595.5 195.3)">p&lt;0.0001</text>
<line x1="1268" y1="23.2" x2="1306.5" y2="23.2" stroke="#f7821b" stroke-width="2.2" />
<circle cx="1287.7" cy="23.2" r="3.91" fill="#000" stroke="none" stroke-width="1" />
<text x="1311" y="30.22" font-size="19.5">WT+ Vec</text>
<line x1="1268" y1="51.2" x2="1306.5" y2="51.2" stroke="#f7821b" stroke-width="2.2" />
<polygon points="1282.9,47.2 1292.5,47.2 1287.7,56.1" fill="#fff" stroke="#000" stroke-width="1.7" stroke-linejoin="miter"/>
<text x="1311" y="58.22" font-size="19.5">WT+ shRIF1</text>
<line x1="1268" y1="80.2" x2="1306.5" y2="80.2" stroke="#22bf22" stroke-width="2.2" />
<circle cx="1287.7" cy="80.2" r="3.91" fill="#000" stroke="none" stroke-width="1" />
<text x="1311" y="87.22" font-size="19.5"><tspan font-style="italic">PIF1</tspan>-KO+ Vec</text>
<line x1="1268" y1="110" x2="1306.5" y2="110" stroke="#22bf22" stroke-width="2.2" />
<polygon points="1282.9,106 1292.5,106 1287.7,114.9" fill="#fff" stroke="#000" stroke-width="1.7" stroke-linejoin="miter"/>
<text x="1311" y="117.02" font-size="19.5"><tspan font-style="italic">PIF1</tspan>-KO+ shRIF1</text>
<polyline points="100,477 155.67,503.67 211.34,520.34 322.68,537.01 434.02,553.68" fill="none" stroke="#1010ff" stroke-width="2.1" stroke-linejoin="round"/>
<polyline points="100,477 155.67,507.01 211.34,530.34 322.68,573.69 434.02,610.36" fill="none" stroke="#1010ff" stroke-width="2.1" stroke-linejoin="round"/>
<polyline points="100,477 155.67,553.68 211.34,623.7 322.68,660.37 434.02,687.04" fill="none" stroke="#228b22" stroke-width="2.1" stroke-linejoin="round"/>
<polyline points="100,477 155.67,603.69 211.34,673.71 322.68,710.38 434.02,730.38" fill="none" stroke="#228b22" stroke-width="2.1" stroke-linejoin="round"/>
<polyline points="100,477 155.67,503.67 211.34,520.34 322.68,560.35 434.02,607.03" fill="none" stroke="#ff5e1a" stroke-width="2.1" stroke-linejoin="round"/>
<polyline points="100,477 155.67,607.03 211.34,690.38 322.68,717.05 434.02,750.39" fill="none" stroke="#ff5e1a" stroke-width="2.1" stroke-linejoin="round"/>
<line x1="155.67" y1="510.34" x2="155.67" y2="497" stroke="#000" stroke-width="2.8" />
<line x1="150.67" y1="510.34" x2="160.67" y2="510.34" stroke="#000" stroke-width="2.8" />
<line x1="150.67" y1="497" x2="160.67" y2="497" stroke="#000" stroke-width="2.8" />
<line x1="211.34" y1="530.34" x2="211.34" y2="510.34" stroke="#000" stroke-width="2.8" />
<line x1="206.34" y1="530.34" x2="216.34" y2="530.34" stroke="#000" stroke-width="2.8" />
<line x1="206.34" y1="510.34" x2="216.34" y2="510.34" stroke="#000" stroke-width="2.8" />
<line x1="322.68" y1="547.01" x2="322.68" y2="527.01" stroke="#000" stroke-width="2.8" />
<line x1="317.68" y1="547.01" x2="327.68" y2="547.01" stroke="#000" stroke-width="2.8" />
<line x1="317.68" y1="527.01" x2="327.68" y2="527.01" stroke="#000" stroke-width="2.8" />
<line x1="434.02" y1="565.35" x2="434.02" y2="542.01" stroke="#000" stroke-width="2.8" />
<line x1="429.02" y1="565.35" x2="439.02" y2="565.35" stroke="#000" stroke-width="2.8" />
<line x1="429.02" y1="542.01" x2="439.02" y2="542.01" stroke="#000" stroke-width="2.8" />
<line x1="155.67" y1="513.67" x2="155.67" y2="500.34" stroke="#000" stroke-width="2.8" />
<line x1="150.67" y1="513.67" x2="160.67" y2="513.67" stroke="#000" stroke-width="2.8" />
<line x1="150.67" y1="500.34" x2="160.67" y2="500.34" stroke="#000" stroke-width="2.8" />
<line x1="211.34" y1="540.35" x2="211.34" y2="520.34" stroke="#000" stroke-width="2.8" />
<line x1="206.34" y1="540.35" x2="216.34" y2="540.35" stroke="#000" stroke-width="2.8" />
<line x1="206.34" y1="520.34" x2="216.34" y2="520.34" stroke="#000" stroke-width="2.8" />
<line x1="322.68" y1="583.69" x2="322.68" y2="563.68" stroke="#000" stroke-width="2.8" />
<line x1="317.68" y1="583.69" x2="327.68" y2="583.69" stroke="#000" stroke-width="2.8" />
<line x1="317.68" y1="563.68" x2="327.68" y2="563.68" stroke="#000" stroke-width="2.8" />
<line x1="434.02" y1="637.03" x2="434.02" y2="583.69" stroke="#000" stroke-width="2.8" />
<line x1="429.02" y1="637.03" x2="439.02" y2="637.03" stroke="#000" stroke-width="2.8" />
<line x1="429.02" y1="583.69" x2="439.02" y2="583.69" stroke="#000" stroke-width="2.8" />
<line x1="155.67" y1="567.02" x2="155.67" y2="540.35" stroke="#000" stroke-width="2.8" />
<line x1="150.67" y1="567.02" x2="160.67" y2="567.02" stroke="#000" stroke-width="2.8" />
<line x1="150.67" y1="540.35" x2="160.67" y2="540.35" stroke="#000" stroke-width="2.8" />
<line x1="211.34" y1="640.37" x2="211.34" y2="607.03" stroke="#000" stroke-width="2.8" />
<line x1="206.34" y1="640.37" x2="216.34" y2="640.37" stroke="#000" stroke-width="2.8" />
<line x1="206.34" y1="607.03" x2="216.34" y2="607.03" stroke="#000" stroke-width="2.8" />
<line x1="322.68" y1="683.71" x2="322.68" y2="637.03" stroke="#000" stroke-width="2.8" />
<line x1="317.68" y1="683.71" x2="327.68" y2="683.71" stroke="#000" stroke-width="2.8" />
<line x1="317.68" y1="637.03" x2="327.68" y2="637.03" stroke="#000" stroke-width="2.8" />
<line x1="434.02" y1="707.05" x2="434.02" y2="667.04" stroke="#000" stroke-width="2.8" />
<line x1="429.02" y1="707.05" x2="439.02" y2="707.05" stroke="#000" stroke-width="2.8" />
<line x1="429.02" y1="667.04" x2="439.02" y2="667.04" stroke="#000" stroke-width="2.8" />
<line x1="155.67" y1="617.03" x2="155.67" y2="590.36" stroke="#000" stroke-width="2.8" />
<line x1="150.67" y1="617.03" x2="160.67" y2="617.03" stroke="#000" stroke-width="2.8" />
<line x1="150.67" y1="590.36" x2="160.67" y2="590.36" stroke="#000" stroke-width="2.8" />
<line x1="211.34" y1="680.37" x2="211.34" y2="667.04" stroke="#000" stroke-width="2.8" />
<line x1="206.34" y1="680.37" x2="216.34" y2="680.37" stroke="#000" stroke-width="2.8" />
<line x1="206.34" y1="667.04" x2="216.34" y2="667.04" stroke="#000" stroke-width="2.8" />
<line x1="322.68" y1="730.38" x2="322.68" y2="690.38" stroke="#000" stroke-width="2.8" />
<line x1="317.68" y1="730.38" x2="327.68" y2="730.38" stroke="#000" stroke-width="2.8" />
<line x1="317.68" y1="690.38" x2="327.68" y2="690.38" stroke="#000" stroke-width="2.8" />
<line x1="434.02" y1="740.39" x2="434.02" y2="720.38" stroke="#000" stroke-width="2.8" />
<line x1="429.02" y1="740.39" x2="439.02" y2="740.39" stroke="#000" stroke-width="2.8" />
<line x1="429.02" y1="720.38" x2="439.02" y2="720.38" stroke="#000" stroke-width="2.8" />
<line x1="155.67" y1="513.67" x2="155.67" y2="493.67" stroke="#000" stroke-width="2.8" />
<line x1="150.67" y1="513.67" x2="160.67" y2="513.67" stroke="#000" stroke-width="2.8" />
<line x1="150.67" y1="493.67" x2="160.67" y2="493.67" stroke="#000" stroke-width="2.8" />
<line x1="211.34" y1="533.68" x2="211.34" y2="507.01" stroke="#000" stroke-width="2.8" />
<line x1="206.34" y1="533.68" x2="216.34" y2="533.68" stroke="#000" stroke-width="2.8" />
<line x1="206.34" y1="507.01" x2="216.34" y2="507.01" stroke="#000" stroke-width="2.8" />
<line x1="322.68" y1="573.69" x2="322.68" y2="547.01" stroke="#000" stroke-width="2.8" />
<line x1="317.68" y1="573.69" x2="327.68" y2="573.69" stroke="#000" stroke-width="2.8" />
<line x1="317.68" y1="547.01" x2="327.68" y2="547.01" stroke="#000" stroke-width="2.8" />
<line x1="434.02" y1="627.03" x2="434.02" y2="587.02" stroke="#000" stroke-width="2.8" />
<line x1="429.02" y1="627.03" x2="439.02" y2="627.03" stroke="#000" stroke-width="2.8" />
<line x1="429.02" y1="587.02" x2="439.02" y2="587.02" stroke="#000" stroke-width="2.8" />
<line x1="155.67" y1="623.7" x2="155.67" y2="590.36" stroke="#000" stroke-width="2.8" />
<line x1="150.67" y1="623.7" x2="160.67" y2="623.7" stroke="#000" stroke-width="2.8" />
<line x1="150.67" y1="590.36" x2="160.67" y2="590.36" stroke="#000" stroke-width="2.8" />
<line x1="211.34" y1="703.71" x2="211.34" y2="677.04" stroke="#000" stroke-width="2.8" />
<line x1="206.34" y1="703.71" x2="216.34" y2="703.71" stroke="#000" stroke-width="2.8" />
<line x1="206.34" y1="677.04" x2="216.34" y2="677.04" stroke="#000" stroke-width="2.8" />
<line x1="322.68" y1="743.72" x2="322.68" y2="690.38" stroke="#000" stroke-width="2.8" />
<line x1="317.68" y1="743.72" x2="327.68" y2="743.72" stroke="#000" stroke-width="2.8" />
<line x1="317.68" y1="690.38" x2="327.68" y2="690.38" stroke="#000" stroke-width="2.8" />
<line x1="434.02" y1="763.72" x2="434.02" y2="737.05" stroke="#000" stroke-width="2.8" />
<line x1="429.02" y1="763.72" x2="439.02" y2="763.72" stroke="#000" stroke-width="2.8" />
<line x1="429.02" y1="737.05" x2="439.02" y2="737.05" stroke="#000" stroke-width="2.8" />
<polygon points="94.72,472.6 105.28,472.6 100,482.39" fill="#fff" stroke="#000" stroke-width="1.7" stroke-linejoin="miter"/>
<polygon points="150.39,502.61 160.95,502.61 155.67,512.4" fill="#fff" stroke="#000" stroke-width="1.7" stroke-linejoin="miter"/>
<polygon points="206.06,525.94 216.62,525.94 211.34,535.73" fill="#fff" stroke="#000" stroke-width="1.7" stroke-linejoin="miter"/>
<polygon points="317.4,569.29 327.96,569.29 322.68,579.08" fill="#fff" stroke="#000" stroke-width="1.7" stroke-linejoin="miter"/>
<polygon points="428.74,605.96 439.3,605.96 434.02,615.75" fill="#fff" stroke="#000" stroke-width="1.7" stroke-linejoin="miter"/>
<polygon points="94.72,472.6 105.28,472.6 100,482.39" fill="#fff" stroke="#000" stroke-width="1.7" stroke-linejoin="miter"/>
<polygon points="150.39,599.29 160.95,599.29 155.67,609.08" fill="#fff" stroke="#000" stroke-width="1.7" stroke-linejoin="miter"/>
<polygon points="206.06,669.31 216.62,669.31 211.34,679.1" fill="#fff" stroke="#000" stroke-width="1.7" stroke-linejoin="miter"/>
<polygon points="317.4,705.98 327.96,705.98 322.68,715.77" fill="#fff" stroke="#000" stroke-width="1.7" stroke-linejoin="miter"/>
<polygon points="428.74,725.98 439.3,725.98 434.02,735.77" fill="#fff" stroke="#000" stroke-width="1.7" stroke-linejoin="miter"/>
<polygon points="94.72,472.6 105.28,472.6 100,482.39" fill="#fff" stroke="#000" stroke-width="1.7" stroke-linejoin="miter"/>
<polygon points="150.39,602.63 160.95,602.63 155.67,612.42" fill="#fff" stroke="#000" stroke-width="1.7" stroke-linejoin="miter"/>
<polygon points="206.06,685.98 216.62,685.98 211.34,695.77" fill="#fff" stroke="#000" stroke-width="1.7" stroke-linejoin="miter"/>
<polygon points="317.4,712.65 327.96,712.65 322.68,722.44" fill="#fff" stroke="#000" stroke-width="1.7" stroke-linejoin="miter"/>
<polygon points="428.74,745.99 439.3,745.99 434.02,755.78" fill="#fff" stroke="#000" stroke-width="1.7" stroke-linejoin="miter"/>
<circle cx="100" cy="477" r="5.06" fill="#000" stroke="none" stroke-width="1" />
<circle cx="155.67" cy="503.67" r="5.06" fill="#000" stroke="none" stroke-width="1" />
<circle cx="211.34" cy="520.34" r="5.06" fill="#000" stroke="none" stroke-width="1" />
<circle cx="322.68" cy="537.01" r="5.06" fill="#000" stroke="none" stroke-width="1" />
<circle cx="434.02" cy="553.68" r="5.06" fill="#000" stroke="none" stroke-width="1" />
<circle cx="100" cy="477" r="5.06" fill="#000" stroke="none" stroke-width="1" />
<circle cx="155.67" cy="553.68" r="5.06" fill="#000" stroke="none" stroke-width="1" />
<circle cx="211.34" cy="623.7" r="5.06" fill="#000" stroke="none" stroke-width="1" />
<circle cx="322.68" cy="660.37" r="5.06" fill="#000" stroke="none" stroke-width="1" />
<circle cx="434.02" cy="687.04" r="5.06" fill="#000" stroke="none" stroke-width="1" />
<circle cx="100" cy="477" r="5.06" fill="#000" stroke="none" stroke-width="1" />
<circle cx="155.67" cy="503.67" r="5.06" fill="#000" stroke="none" stroke-width="1" />
<circle cx="211.34" cy="520.34" r="5.06" fill="#000" stroke="none" stroke-width="1" />
<circle cx="322.68" cy="560.35" r="5.06" fill="#000" stroke="none" stroke-width="1" />
<circle cx="434.02" cy="607.03" r="5.06" fill="#000" stroke="none" stroke-width="1" />
<line x1="100" y1="477" x2="100" y2="810.4" stroke="#000" stroke-width="3" stroke-linecap="square"/>
<line x1="87" y1="810.4" x2="434" y2="810.4" stroke="#000" stroke-width="3" />
<line x1="86" y1="810.4" x2="100" y2="810.4" stroke="#000" stroke-width="3" />
<line x1="86" y1="643.7" x2="100" y2="643.7" stroke="#000" stroke-width="3" />
<line x1="86" y1="477" x2="100" y2="477" stroke="#000" stroke-width="3" />
<line x1="86" y1="727.05" x2="100" y2="727.05" stroke="#000" stroke-width="3" />
<line x1="86" y1="560.35" x2="100" y2="560.35" stroke="#000" stroke-width="3" />
<text x="83" y="817.42" font-size="19.5" text-anchor="end">0</text>
<text x="83" y="650.72" font-size="19.5" text-anchor="end">0.5</text>
<text x="83" y="484.02" font-size="19.5" text-anchor="end">1</text>
<line x1="100" y1="810.4" x2="100" y2="820.4" stroke="#000" stroke-width="3" />
<text x="100" y="843.6" font-size="20" text-anchor="middle">0</text>
<line x1="211.34" y1="810.4" x2="211.34" y2="820.4" stroke="#000" stroke-width="3" />
<text x="211.34" y="843.6" font-size="20" text-anchor="middle">2</text>
<line x1="322.68" y1="810.4" x2="322.68" y2="820.4" stroke="#000" stroke-width="3" />
<text x="322.68" y="843.6" font-size="20" text-anchor="middle">4</text>
<line x1="434.02" y1="810.4" x2="434.02" y2="820.4" stroke="#000" stroke-width="3" />
<text x="434.02" y="843.6" font-size="20" text-anchor="middle">6</text>
<text x="267" y="870" font-size="20" text-anchor="middle" textLength="114" lengthAdjust="spacingAndGlyphs">Olaparib μM</text>
<text x="44" y="643.5" font-size="19" text-anchor="middle" transform="rotate(-90 44 643.5)">Vability</text>
<rect x="423.6" y="581.4" width="19.6" height="62.1" fill="none" stroke="#000" stroke-width="2" />
<rect x="423.6" y="740.6" width="19.6" height="32.4" fill="none" stroke="#000" stroke-width="2" />
<polyline points="443.2,608.4 457.8,608.4 457.8,755 443.2,755" fill="none" stroke="#000" stroke-width="2" />
<text x="466.5" y="677.5" font-size="19" text-anchor="middle" transform="rotate(90 466.5 677.5)">p&lt;0.0001</text>
<line x1="512.3" y1="461.5" x2="544.6" y2="461.5" stroke="#1010ff" stroke-width="2.2" />
<circle cx="529.2" cy="461.5" r="3.91" fill="#000" stroke="none" stroke-width="1" />
<text x="552.6" y="468.34" font-size="19">WT+ Vec</text>
<line x1="512.3" y1="503.7" x2="544.6" y2="503.7" stroke="#1010ff" stroke-width="2.2" />
<polygon points="525.84,500.9 532.56,500.9 529.2,507.13" fill="#fff" stroke="#000" stroke-width="1.7" stroke-linejoin="miter"/>
<text x="552.6" y="510.54" font-size="19">WT+ shPIF1</text>
<line x1="512.3" y1="545.5" x2="544.6" y2="545.5" stroke="#228b22" stroke-width="2.2" />
<circle cx="529.2" cy="545.5" r="3.91" fill="#000" stroke="none" stroke-width="1" />
<text x="552.6" y="552.34" font-size="19">BRCA1-ΔBRCT+ Vec</text>
<line x1="512.3" y1="587.2" x2="544.6" y2="587.2" stroke="#228b22" stroke-width="2.2" />
<polygon points="525.84,584.4 532.56,584.4 529.2,590.63" fill="#fff" stroke="#000" stroke-width="1.7" stroke-linejoin="miter"/>
<text x="552.6" y="594.04" font-size="19">BRCA1-ΔBRCT+ shPIF1</text>
<line x1="512.3" y1="629.1" x2="544.6" y2="629.1" stroke="#ff5e1a" stroke-width="2.2" />
<circle cx="529.2" cy="629.1" r="3.91" fill="#000" stroke="none" stroke-width="1" />
<text x="552.6" y="635.94" font-size="19">BRCA1-ΔBRCT/<tspan font-style="italic">53BP1</tspan>-KO+ Vec</text>
<line x1="512.3" y1="670.6" x2="544.6" y2="670.6" stroke="#ff5e1a" stroke-width="2.2" />
<polygon points="525.84,667.8 532.56,667.8 529.2,674.03" fill="#fff" stroke="#000" stroke-width="1.7" stroke-linejoin="miter"/>
<text x="552.6" y="677.44" font-size="19">BRCA1-ΔBRCT/<tspan font-style="italic">53BP1</tspan>-KO+ shPIF1</text>
<polyline points="1007.6,1299.55 1094.2,1292.38 1180.8,1277.01 1267.4,1246.26 1354,1153.01" fill="none" stroke="#f7821b" stroke-width="2.1" stroke-linejoin="round"/>
<polyline points="1007.6,1299.55 1094.2,1292.38 1180.8,1270.86 1267.4,1221.67 1354,1143.78" fill="none" stroke="#f7821b" stroke-width="2.1" stroke-linejoin="round"/>
<polyline points="1007.6,1299.55 1094.2,1291.35 1180.8,1262.66 1267.4,1237.04 1354,1140.71" fill="none" stroke="#22bf22" stroke-width="2.1" stroke-linejoin="round"/>
<polyline points="1007.6,1299.55 1094.2,1295.45 1180.8,1284.18 1267.4,1273.93 1354,1240.11" fill="none" stroke="#22bf22" stroke-width="2.1" stroke-linejoin="round"/>
<line x1="1094.2" y1="1294.43" x2="1094.2" y2="1290.33" stroke="#000" stroke-width="2" />
<line x1="1089.7" y1="1294.43" x2="1098.7" y2="1294.43" stroke="#000" stroke-width="2" />
<line x1="1089.7" y1="1290.33" x2="1098.7" y2="1290.33" stroke="#000" stroke-width="2" />
<line x1="1180.8" y1="1283.16" x2="1180.8" y2="1270.86" stroke="#000" stroke-width="2" />
<line x1="1176.3" y1="1283.16" x2="1185.3" y2="1283.16" stroke="#000" stroke-width="2" />
<line x1="1176.3" y1="1270.86" x2="1185.3" y2="1270.86" stroke="#000" stroke-width="2" />
<line x1="1267.4" y1="1260.61" x2="1267.4" y2="1231.92" stroke="#000" stroke-width="2" />
<line x1="1262.9" y1="1260.61" x2="1271.9" y2="1260.61" stroke="#000" stroke-width="2" />
<line x1="1262.9" y1="1231.92" x2="1271.9" y2="1231.92" stroke="#000" stroke-width="2" />
<line x1="1354" y1="1182.72" x2="1354" y2="1123.29" stroke="#000" stroke-width="2" />
<line x1="1349.5" y1="1182.72" x2="1358.5" y2="1182.72" stroke="#000" stroke-width="2" />
<line x1="1349.5" y1="1123.29" x2="1358.5" y2="1123.29" stroke="#000" stroke-width="2" />
<line x1="1094.2" y1="1294.43" x2="1094.2" y2="1290.33" stroke="#000" stroke-width="2" />
<line x1="1089.7" y1="1294.43" x2="1098.7" y2="1294.43" stroke="#000" stroke-width="2" />
<line x1="1089.7" y1="1290.33" x2="1098.7" y2="1290.33" stroke="#000" stroke-width="2" />
<line x1="1180.8" y1="1275.98" x2="1180.8" y2="1265.73" stroke="#000" stroke-width="2" />
<line x1="1176.3" y1="1275.98" x2="1185.3" y2="1275.98" stroke="#000" stroke-width="2" />
<line x1="1176.3" y1="1265.73" x2="1185.3" y2="1265.73" stroke="#000" stroke-width="2" />
<line x1="1267.4" y1="1232.94" x2="1267.4" y2="1210.39" stroke="#000" stroke-width="2" />
<line x1="1262.9" y1="1232.94" x2="1271.9" y2="1232.94" stroke="#000" stroke-width="2" />
<line x1="1262.9" y1="1210.39" x2="1271.9" y2="1210.39" stroke="#000" stroke-width="2" />
<line x1="1354" y1="1154.03" x2="1354" y2="1133.53" stroke="#000" stroke-width="2" />
<line x1="1349.5" y1="1154.03" x2="1358.5" y2="1154.03" stroke="#000" stroke-width="2" />
<line x1="1349.5" y1="1133.53" x2="1358.5" y2="1133.53" stroke="#000" stroke-width="2" />
<line x1="1094.2" y1="1293.4" x2="1094.2" y2="1289.3" stroke="#000" stroke-width="2" />
<line x1="1089.7" y1="1293.4" x2="1098.7" y2="1293.4" stroke="#000" stroke-width="2" />
<line x1="1089.7" y1="1289.3" x2="1098.7" y2="1289.3" stroke="#000" stroke-width="2" />
<line x1="1180.8" y1="1270.86" x2="1180.8" y2="1254.46" stroke="#000" stroke-width="2" />
<line x1="1176.3" y1="1270.86" x2="1185.3" y2="1270.86" stroke="#000" stroke-width="2" />
<line x1="1176.3" y1="1254.46" x2="1185.3" y2="1254.46" stroke="#000" stroke-width="2" />
<line x1="1267.4" y1="1251.39" x2="1267.4" y2="1222.69" stroke="#000" stroke-width="2" />
<line x1="1262.9" y1="1251.39" x2="1271.9" y2="1251.39" stroke="#000" stroke-width="2" />
<line x1="1262.9" y1="1222.69" x2="1271.9" y2="1222.69" stroke="#000" stroke-width="2" />
<line x1="1354" y1="1171.45" x2="1354" y2="1109.96" stroke="#000" stroke-width="2" />
<line x1="1349.5" y1="1171.45" x2="1358.5" y2="1171.45" stroke="#000" stroke-width="2" />
<line x1="1349.5" y1="1109.96" x2="1358.5" y2="1109.96" stroke="#000" stroke-width="2" />
<line x1="1094.2" y1="1297.5" x2="1094.2" y2="1293.4" stroke="#000" stroke-width="2" />
<line x1="1089.7" y1="1297.5" x2="1098.7" y2="1297.5" stroke="#000" stroke-width="2" />
<line x1="1089.7" y1="1293.4" x2="1098.7" y2="1293.4" stroke="#000" stroke-width="2" />
<line x1="1180.8" y1="1292.38" x2="1180.8" y2="1275.98" stroke="#000" stroke-width="2" />
<line x1="1176.3" y1="1292.38" x2="1185.3" y2="1292.38" stroke="#000" stroke-width="2" />
<line x1="1176.3" y1="1275.98" x2="1185.3" y2="1275.98" stroke="#000" stroke-width="2" />
<line x1="1267.4" y1="1287.25" x2="1267.4" y2="1260.61" stroke="#000" stroke-width="2" />
<line x1="1262.9" y1="1287.25" x2="1271.9" y2="1287.25" stroke="#000" stroke-width="2" />
<line x1="1262.9" y1="1260.61" x2="1271.9" y2="1260.61" stroke="#000" stroke-width="2" />
<line x1="1354" y1="1260.61" x2="1354" y2="1219.62" stroke="#000" stroke-width="2" />
<line x1="1349.5" y1="1260.61" x2="1358.5" y2="1260.61" stroke="#000" stroke-width="2" />
<line x1="1349.5" y1="1219.62" x2="1358.5" y2="1219.62" stroke="#000" stroke-width="2" />
<polygon points="1002.8,1295.55 1012.4,1295.55 1007.6,1304.45" fill="#fff" stroke="#000" stroke-width="1.7" stroke-linejoin="miter"/>
<polygon points="1089.4,1288.38 1099,1288.38 1094.2,1297.28" fill="#fff" stroke="#000" stroke-width="1.7" stroke-linejoin="miter"/>
<polygon points="1176,1266.86 1185.6,1266.86 1180.8,1275.76" fill="#fff" stroke="#000" stroke-width="1.7" stroke-linejoin="miter"/>
<polygon points="1262.6,1217.67 1272.2,1217.67 1267.4,1226.57" fill="#fff" stroke="#000" stroke-width="1.7" stroke-linejoin="miter"/>
<polygon points="1349.2,1139.78 1358.8,1139.78 1354,1148.68" fill="#fff" stroke="#000" stroke-width="1.7" stroke-linejoin="miter"/>
<polygon points="1002.8,1295.55 1012.4,1295.55 1007.6,1304.45" fill="#fff" stroke="#000" stroke-width="1.7" stroke-linejoin="miter"/>
<polygon points="1089.4,1291.45 1099,1291.45 1094.2,1300.35" fill="#fff" stroke="#000" stroke-width="1.7" stroke-linejoin="miter"/>
<polygon points="1176,1280.18 1185.6,1280.18 1180.8,1289.08" fill="#fff" stroke="#000" stroke-width="1.7" stroke-linejoin="miter"/>
<polygon points="1262.6,1269.93 1272.2,1269.93 1267.4,1278.83" fill="#fff" stroke="#000" stroke-width="1.7" stroke-linejoin="miter"/>
<polygon points="1349.2,1236.11 1358.8,1236.11 1354,1245.01" fill="#fff" stroke="#000" stroke-width="1.7" stroke-linejoin="miter"/>
<circle cx="1007.6" cy="1299.55" r="4.6" fill="#000" stroke="none" stroke-width="1" />
<circle cx="1094.2" cy="1292.38" r="4.6" fill="#000" stroke="none" stroke-width="1" />
<circle cx="1180.8" cy="1277.01" r="4.6" fill="#000" stroke="none" stroke-width="1" />
<circle cx="1267.4" cy="1246.26" r="4.6" fill="#000" stroke="none" stroke-width="1" />
<circle cx="1354" cy="1153.01" r="4.6" fill="#000" stroke="none" stroke-width="1" />
<circle cx="1007.6" cy="1299.55" r="4.6" fill="#000" stroke="none" stroke-width="1" />
<circle cx="1094.2" cy="1291.35" r="4.6" fill="#000" stroke="none" stroke-width="1" />
<circle cx="1180.8" cy="1262.66" r="4.6" fill="#000" stroke="none" stroke-width="1" />
<circle cx="1267.4" cy="1237.04" r="4.6" fill="#000" stroke="none" stroke-width="1" />
<circle cx="1354" cy="1140.71" r="4.6" fill="#000" stroke="none" stroke-width="1" />
<line x1="1007.6" y1="1053.6" x2="1007.6" y2="1309.8" stroke="#000" stroke-width="2.2" stroke-linecap="square"/>
<line x1="997" y1="1309.8" x2="1354" y2="1309.8" stroke="#000" stroke-width="2.2" />
<line x1="997" y1="1309.8" x2="1007.6" y2="1309.8" stroke="#000" stroke-width="2.2" />
<line x1="997" y1="1258.56" x2="1007.6" y2="1258.56" stroke="#000" stroke-width="2.2" />
<line x1="997" y1="1207.32" x2="1007.6" y2="1207.32" stroke="#000" stroke-width="2.2" />
<line x1="997" y1="1156.08" x2="1007.6" y2="1156.08" stroke="#000" stroke-width="2.2" />
<line x1="997" y1="1104.84" x2="1007.6" y2="1104.84" stroke="#000" stroke-width="2.2" />
<line x1="997" y1="1053.6" x2="1007.6" y2="1053.6" stroke="#000" stroke-width="2.2" />
<text x="991.5" y="1318.44" font-size="20" text-anchor="end" transform="translate(0 1318.44) scale(1 1.2) translate(0 -1318.44)">0</text>
<text x="991.5" y="1267.2" font-size="20" text-anchor="end" transform="translate(0 1267.2) scale(1 1.2) translate(0 -1267.2)">5</text>
<text x="991.5" y="1215.96" font-size="20" text-anchor="end" transform="translate(0 1215.96) scale(1 1.2) translate(0 -1215.96)">10</text>
<text x="991.5" y="1164.72" font-size="20" text-anchor="end" transform="translate(0 1164.72) scale(1 1.2) translate(0 -1164.72)">15</text>
<text x="991.5" y="1113.48" font-size="20" text-anchor="end" transform="translate(0 1113.48) scale(1 1.2) translate(0 -1113.48)">20</text>
<text x="991.5" y="1062.24" font-size="20" text-anchor="end" transform="translate(0 1062.24) scale(1 1.2) translate(0 -1062.24)">25</text>
<line x1="1007.6" y1="1309.8" x2="1007.6" y2="1319.8" stroke="#000" stroke-width="2.2" />
<text x="1007.6" y="1339.5" font-size="20" text-anchor="middle" transform="translate(0 1339.5) scale(1 1.2) translate(0 -1339.5)">1</text>
<line x1="1094.2" y1="1309.8" x2="1094.2" y2="1319.8" stroke="#000" stroke-width="2.2" />
<text x="1094.2" y="1339.5" font-size="20" text-anchor="middle" transform="translate(0 1339.5) scale(1 1.2) translate(0 -1339.5)">2</text>
<line x1="1180.8" y1="1309.8" x2="1180.8" y2="1319.8" stroke="#000" stroke-width="2.2" />
<text x="1180.8" y="1339.5" font-size="20" text-anchor="middle" transform="translate(0 1339.5) scale(1 1.2) translate(0 -1339.5)">3</text>
<line x1="1267.4" y1="1309.8" x2="1267.4" y2="1319.8" stroke="#000" stroke-width="2.2" />
<text x="1267.4" y="1339.5" font-size="20" text-anchor="middle" transform="translate(0 1339.5) scale(1 1.2) translate(0 -1339.5)">4</text>
<line x1="1354" y1="1309.8" x2="1354" y2="1319.8" stroke="#000" stroke-width="2.2" />
<text x="1354" y="1339.5" font-size="20" text-anchor="middle" transform="translate(0 1339.5) scale(1 1.2) translate(0 -1339.5)">5</text>
<text x="1179.5" y="1364" font-size="20" text-anchor="middle" transform="translate(0 1364) scale(1 1.2) translate(0 -1364)">Days</text>
<text x="933.5" y="1183.9" font-size="20.6" text-anchor="middle" transform="rotate(-90 933.5 1183.9)">Relative Cell numbers</text>
<text x="954.8" y="1183.9" font-size="20.6" text-anchor="middle" transform="rotate(-90 954.8 1183.9)">(normalized to first day)</text>
<rect x="1344.7" y="1104.6" width="19.3" height="80.1" fill="none" stroke="#000" stroke-width="2" />
<rect x="1344.7" y="1214.9" width="19.3" height="47.3" fill="none" stroke="#000" stroke-width="2" />
<polyline points="1364,1150.4 1379.3,1150.4 1379.3,1244.7 1364,1244.7" fill="none" stroke="#000" stroke-width="2" />
<text x="1389.6" y="1167" font-size="19" text-anchor="middle" transform="rotate(90 1389.6 1167)">p&lt;0.0001</text>
<line x1="1021.4" y1="1006.3" x2="1061.6" y2="1006.3" stroke="#f7821b" stroke-width="2.2" />
<circle cx="1041.9" cy="1006.3" r="3.91" fill="#000" stroke="none" stroke-width="1" />
<text x="1065.3" y="1013.5" font-size="20">Vec</text>
<line x1="1021.4" y1="1033" x2="1061.6" y2="1033" stroke="#f7821b" stroke-width="2.2" />
<polygon points="1038.3,1030 1045.5,1030 1041.9,1036.67" fill="#fff" stroke="#000" stroke-width="1.7" stroke-linejoin="miter"/>
<text x="1065.3" y="1040.2" font-size="20">Flag-TIRR+ Vec</text>
<line x1="1021.4" y1="1063.6" x2="1061.6" y2="1063.6" stroke="#22bf22" stroke-width="2.2" />
<circle cx="1041.9" cy="1063.6" r="3.91" fill="#000" stroke="none" stroke-width="1" />
<text x="1065.3" y="1070.8" font-size="20">Vec+ shPIF1</text>
<line x1="1021.4" y1="1092.7" x2="1061.6" y2="1092.7" stroke="#22bf22" stroke-width="2.2" />
<polygon points="1038.3,1089.7 1045.5,1089.7 1041.9,1096.38" fill="#fff" stroke="#000" stroke-width="1.7" stroke-linejoin="miter"/>
<text x="1065.3" y="1099.9" font-size="20">Flag-TIRR+ shPIF1</text>
<text x="83.9" y="1211.5" font-size="32.7" text-anchor="middle" transform="rotate(-90 83.9 1211.5)" textLength="430" lengthAdjust="spacingAndGlyphs">IScel-induced Recombination</text>
<text x="118.5" y="1211.5" font-size="29.5" text-anchor="middle" transform="rotate(-90 118.5 1211.5)" textLength="140" lengthAdjust="spacingAndGlyphs">(%EGFP)</text>
<rect x="186" y="1080.5" width="23" height="304.1" fill="#fff" stroke="#000" stroke-width="3.6" />
<rect x="224" y="1240.8" width="24.3" height="143.8" fill="#808080" stroke="#000" stroke-width="3.6" />
<rect x="263.5" y="1236.09" width="24" height="148.51" fill="#808080" stroke="#000" stroke-width="3.6" />
<rect x="302.7" y="1270.27" width="24" height="114.33" fill="#808080" stroke="#000" stroke-width="3.6" />
<line x1="197.5" y1="1087.58" x2="197.5" y2="1073.43" stroke="#000" stroke-width="2" />
<line x1="192.5" y1="1087.58" x2="202.5" y2="1087.58" stroke="#000" stroke-width="2" />
<line x1="192.5" y1="1073.43" x2="202.5" y2="1073.43" stroke="#000" stroke-width="2" />
<circle cx="191.5" cy="1071.07" r="4.2" fill="#000" stroke="none" stroke-width="1" />
<circle cx="197.5" cy="1078.15" r="4.2" fill="#000" stroke="none" stroke-width="1" />
<circle cx="203.5" cy="1080.5" r="4.2" fill="#000" stroke="none" stroke-width="1" />
<circle cx="194.5" cy="1087.58" r="4.2" fill="#000" stroke="none" stroke-width="1" />
<circle cx="201.5" cy="1089.93" r="4.2" fill="#000" stroke="none" stroke-width="1" />
<line x1="236.15" y1="1242.69" x2="236.15" y2="1238.92" stroke="#000" stroke-width="2" />
<line x1="231.15" y1="1242.69" x2="241.15" y2="1242.69" stroke="#000" stroke-width="2" />
<line x1="231.15" y1="1238.92" x2="241.15" y2="1238.92" stroke="#000" stroke-width="2" />
<circle cx="230.15" cy="1238.45" r="3.9" fill="none" stroke="#000" stroke-width="2.7" />
<circle cx="234.15" cy="1239.62" r="3.9" fill="none" stroke="#000" stroke-width="2.7" />
<circle cx="238.15" cy="1240.8" r="3.9" fill="none" stroke="#000" stroke-width="2.7" />
<circle cx="242.15" cy="1241.98" r="3.9" fill="none" stroke="#000" stroke-width="2.7" />
<circle cx="244.15" cy="1243.16" r="3.9" fill="none" stroke="#000" stroke-width="2.7" />
<line x1="275.5" y1="1238.45" x2="275.5" y2="1233.73" stroke="#000" stroke-width="2" />
<line x1="270.5" y1="1238.45" x2="280.5" y2="1238.45" stroke="#000" stroke-width="2" />
<line x1="270.5" y1="1233.73" x2="280.5" y2="1233.73" stroke="#000" stroke-width="2" />
<circle cx="269.5" cy="1233.73" r="3.9" fill="none" stroke="#000" stroke-width="2.7" />
<circle cx="273.5" cy="1232.55" r="3.9" fill="none" stroke="#000" stroke-width="2.7" />
<circle cx="277.5" cy="1234.91" r="3.9" fill="none" stroke="#000" stroke-width="2.7" />
<circle cx="281.5" cy="1236.09" r="3.9" fill="none" stroke="#000" stroke-width="2.7" />
<circle cx="283.5" cy="1243.16" r="3.9" fill="none" stroke="#000" stroke-width="2.7" />
<line x1="314.7" y1="1272.63" x2="314.7" y2="1267.91" stroke="#000" stroke-width="2" />
<line x1="309.7" y1="1272.63" x2="319.7" y2="1272.63" stroke="#000" stroke-width="2" />
<line x1="309.7" y1="1267.91" x2="319.7" y2="1267.91" stroke="#000" stroke-width="2" />
<circle cx="309.7" cy="1269.09" r="4.2" fill="#000" stroke="none" stroke-width="1" />
<circle cx="313.7" cy="1267.91" r="4.2" fill="#000" stroke="none" stroke-width="1" />
<circle cx="317.7" cy="1270.27" r="4.2" fill="#000" stroke="none" stroke-width="1" />
<circle cx="320.7" cy="1271.45" r="4.2" fill="#000" stroke="none" stroke-width="1" />
<circle cx="322.7" cy="1272.63" r="4.2" fill="#000" stroke="none" stroke-width="1" />
<line x1="171" y1="1029" x2="171" y2="1386.6" stroke="#000" stroke-width="4" />
<line x1="156" y1="1384.6" x2="342.4" y2="1384.6" stroke="#000" stroke-width="4" />
<line x1="156" y1="1384.6" x2="171" y2="1384.6" stroke="#000" stroke-width="4" />
<text x="154" y="1393.24" font-size="24" text-anchor="end">0</text>
<line x1="156" y1="1266.73" x2="171" y2="1266.73" stroke="#000" stroke-width="4" />
<text x="154" y="1275.37" font-size="24" text-anchor="end">5</text>
<line x1="156" y1="1148.87" x2="171" y2="1148.87" stroke="#000" stroke-width="4" />
<text x="154" y="1157.51" font-size="24" text-anchor="end">10</text>
<line x1="156" y1="1031" x2="171" y2="1031" stroke="#000" stroke-width="4" />
<text x="154" y="1039.64" font-size="24" text-anchor="end">15</text>
<polyline points="197.9,1060.8 197.9,1031 277.8,1031 277.8,1215.7" fill="none" stroke="#000" stroke-width="4" stroke-linejoin="miter"/>
<line x1="227.4" y1="1215.7" x2="328" y2="1215.7" stroke="#000" stroke-width="4" />
<text x="193.4" y="1026" font-size="20">p&lt;0.0001</text>
<text x="216.5" y="1400" font-size="26.5" text-anchor="end" transform="rotate(-51 216.5 1400)">Vec</text>
<text x="253.2" y="1400" font-size="26.5" text-anchor="end" transform="rotate(-51 253.2 1400)">shPIF1</text>
<text x="292.4" y="1400" font-size="26.5" text-anchor="end" transform="rotate(-51 292.4 1400)">shBRCA1</text>
<text x="331.6" y="1400" font-size="26.5" text-anchor="end" transform="rotate(-51 331.6 1400)">shRAD51</text>
<line x1="188" y1="1496.3" x2="326.9" y2="1496.3" stroke="#000" stroke-width="4.5" />
<text x="257.2" y="1522.8" font-size="27" text-anchor="middle">Flag-TIRR</text>
<text x="149" y="987.6" font-size="32">EGFP-BIR/LTGC</text>
<rect x="508.3" y="1113.74" width="24.1" height="270.56" fill="#fff" stroke="#000" stroke-width="3.6" />
<rect x="548" y="1236.56" width="23.6" height="147.74" fill="#808080" stroke="#000" stroke-width="3.6" />
<rect x="587.3" y="1249.02" width="23.5" height="135.28" fill="#808080" stroke="#000" stroke-width="3.6" />
<rect x="626" y="1240.12" width="24.5" height="144.18" fill="#808080" stroke="#000" stroke-width="3.6" />
<line x1="520.35" y1="1135.81" x2="520.35" y2="1091.67" stroke="#000" stroke-width="2" />
<line x1="515.35" y1="1135.81" x2="525.35" y2="1135.81" stroke="#000" stroke-width="2" />
<line x1="515.35" y1="1091.67" x2="525.35" y2="1091.67" stroke="#000" stroke-width="2" />
<circle cx="513.35" cy="1083.48" r="4.2" fill="#000" stroke="none" stroke-width="1" />
<circle cx="526.35" cy="1092.38" r="4.2" fill="#000" stroke="none" stroke-width="1" />
<circle cx="520.35" cy="1122.64" r="4.2" fill="#000" stroke="none" stroke-width="1" />
<circle cx="513.35" cy="1129.76" r="4.2" fill="#000" stroke="none" stroke-width="1" />
<circle cx="526.35" cy="1135.1" r="4.2" fill="#000" stroke="none" stroke-width="1" />
<line x1="559.8" y1="1249.02" x2="559.8" y2="1224.1" stroke="#000" stroke-width="2" />
<line x1="554.8" y1="1249.02" x2="564.8" y2="1249.02" stroke="#000" stroke-width="2" />
<line x1="554.8" y1="1224.1" x2="564.8" y2="1224.1" stroke="#000" stroke-width="2" />
<circle cx="552.8" cy="1222.32" r="3.9" fill="none" stroke="#000" stroke-width="2.7" />
<circle cx="566.8" cy="1222.32" r="3.9" fill="none" stroke="#000" stroke-width="2.7" />
<circle cx="552.8" cy="1241.9" r="3.9" fill="none" stroke="#000" stroke-width="2.7" />
<circle cx="566.8" cy="1243.68" r="3.9" fill="none" stroke="#000" stroke-width="2.7" />
<circle cx="559.8" cy="1254.36" r="3.9" fill="none" stroke="#000" stroke-width="2.7" />
<line x1="599.05" y1="1281.06" x2="599.05" y2="1216.98" stroke="#000" stroke-width="2" />
<line x1="594.05" y1="1281.06" x2="604.05" y2="1281.06" stroke="#000" stroke-width="2" />
<line x1="594.05" y1="1216.98" x2="604.05" y2="1216.98" stroke="#000" stroke-width="2" />
<circle cx="592.05" cy="1216.98" r="3.9" fill="none" stroke="#000" stroke-width="2.7" />
<circle cx="606.05" cy="1220.54" r="3.9" fill="none" stroke="#000" stroke-width="2.7" />
<circle cx="599.05" cy="1234.78" r="3.9" fill="none" stroke="#000" stroke-width="2.7" />
<circle cx="592.05" cy="1277.5" r="3.9" fill="none" stroke="#000" stroke-width="2.7" />
<circle cx="606.05" cy="1284.62" r="3.9" fill="none" stroke="#000" stroke-width="2.7" />
<line x1="638.25" y1="1273.94" x2="638.25" y2="1206.3" stroke="#000" stroke-width="2" />
<line x1="633.25" y1="1273.94" x2="643.25" y2="1273.94" stroke="#000" stroke-width="2" />
<line x1="633.25" y1="1206.3" x2="643.25" y2="1206.3" stroke="#000" stroke-width="2" />
<circle cx="631.25" cy="1211.64" r="4.2" fill="#000" stroke="none" stroke-width="1" />
<circle cx="638.25" cy="1213.42" r="4.2" fill="#000" stroke="none" stroke-width="1" />
<circle cx="647.25" cy="1220.54" r="4.2" fill="#000" stroke="none" stroke-width="1" />
<circle cx="638.25" cy="1259.7" r="4.2" fill="#000" stroke="none" stroke-width="1" />
<circle cx="638.25" cy="1293.52" r="4.2" fill="#000" stroke="none" stroke-width="1" />
<line x1="494" y1="1026.3" x2="494" y2="1386.3" stroke="#000" stroke-width="4" />
<line x1="479.6" y1="1384.3" x2="665.7" y2="1384.3" stroke="#000" stroke-width="4" />
<line x1="479.6" y1="1384.3" x2="494" y2="1384.3" stroke="#000" stroke-width="4" />
<text x="477.6" y="1392.94" font-size="24" text-anchor="end">0</text>
<line x1="479.6" y1="1313.1" x2="494" y2="1313.1" stroke="#000" stroke-width="4" />
<text x="477.6" y="1321.74" font-size="24" text-anchor="end">2</text>
<line x1="479.6" y1="1241.9" x2="494" y2="1241.9" stroke="#000" stroke-width="4" />
<text x="477.6" y="1250.54" font-size="24" text-anchor="end">4</text>
<line x1="479.6" y1="1170.7" x2="494" y2="1170.7" stroke="#000" stroke-width="4" />
<text x="477.6" y="1179.34" font-size="24" text-anchor="end">6</text>
<line x1="479.6" y1="1099.5" x2="494" y2="1099.5" stroke="#000" stroke-width="4" />
<text x="477.6" y="1108.14" font-size="24" text-anchor="end">8</text>
<line x1="479.6" y1="1028.3" x2="494" y2="1028.3" stroke="#000" stroke-width="4" />
<text x="477.6" y="1036.94" font-size="24" text-anchor="end">10</text>
<polyline points="519.3,1082.4 519.3,1053.7 601,1053.7 601,1204.5" fill="none" stroke="#000" stroke-width="4" stroke-linejoin="miter"/>
<line x1="550.7" y1="1204.5" x2="651.3" y2="1204.5" stroke="#000" stroke-width="4" />
<text x="516.7" y="1047" font-size="20">p&lt;0.0001</text>
<text x="537" y="1400" font-size="26.5" text-anchor="end" transform="rotate(-51 537 1400)">Vec</text>
<text x="575" y="1400" font-size="26.5" text-anchor="end" transform="rotate(-51 575 1400)">shPIF1</text>
<text x="615.5" y="1400" font-size="26.5" text-anchor="end" transform="rotate(-51 615.5 1400)">shBRCA1</text>
<text x="653.5" y="1400" font-size="26.5" text-anchor="end" transform="rotate(-51 653.5 1400)">shRAD51</text>
<line x1="510" y1="1495.4" x2="649.2" y2="1495.4" stroke="#000" stroke-width="4.5" />
<text x="581.3" y="1524" font-size="27" text-anchor="middle">Flag-TIRR</text>
<text x="463" y="987" font-size="32">EGFP-HR/STGC</text>
<text x="-0.5" y="1635.4" font-size="58" font-family="Carlito, Calibri, 'Liberation Sans', sans-serif" textLength="17.7" lengthAdjust="spacingAndGlyphs">f</text>
<text x="37" y="1635.4" font-size="39.5" font-family="Carlito, Calibri, 'Liberation Sans', sans-serif" font-weight="bold" textLength="398" lengthAdjust="spacingAndGlyphs">BIR activation at deDSBs</text>
<line x1="119" y1="1671.5" x2="319.6" y2="1671.5" stroke="#000" stroke-width="3.2" />
<line x1="119" y1="1683.8" x2="228.7" y2="1683.8" stroke="#000" stroke-width="3.2" />
<line x1="420" y1="1671.5" x2="530" y2="1671.5" stroke="#000" stroke-width="3.2" />
<line x1="329.6" y1="1683.8" x2="530" y2="1683.8" stroke="#000" stroke-width="3.2" />
<text x="569" y="1685.7" font-size="34.5" font-family="Carlito, Calibri, 'Liberation Sans', sans-serif" textLength="378" lengthAdjust="spacingAndGlyphs">deDSBs after end resection</text>
<rect x="35.2" y="1716.6" width="1110.4" height="303.9" fill="none" stroke="#7f7f7f" stroke-width="2.6" />
<rect x="35.2" y="2038" width="769.7" height="304.3" fill="none" stroke="#7f7f7f" stroke-width="2.6" />
<text x="59" y="1774" font-size="33.5" font-family="Carlito, Calibri, 'Liberation Sans', sans-serif" textLength="46.14" lengthAdjust="spacingAndGlyphs">WT</text>
<text x="293" y="1752" font-size="34" font-family="Carlito, Calibri, 'Liberation Sans', sans-serif" textLength="194" lengthAdjust="spacingAndGlyphs">No BIR signals</text>
<text x="258" y="1800.5" font-size="24.7" font-family="Carlito, Calibri, 'Liberation Sans', sans-serif" font-weight="bold" textLength="288" lengthAdjust="spacingAndGlyphs">Normal fill-in DNA synthesis</text>
<line x1="59" y1="1895.2" x2="519" y2="1895.2" stroke="#000" stroke-width="3" />
<line x1="59" y1="1907.2" x2="258" y2="1907.2" stroke="#000" stroke-width="3" />
<g transform="translate(128.5 1897) rotate(57)">
<rect x="-30" y="-23" width="60" height="46" rx="9" ry="9" fill="url(#gNuc)"/>
<line x1="-33" y1="-6" x2="33" y2="-6" stroke="#1a80f0" stroke-width="3.6" />
<line x1="-33" y1="7" x2="33" y2="7" stroke="#1a80f0" stroke-width="3.6" />
</g>
<ellipse cx="168.2" cy="1843" rx="46.5" ry="27.5" fill="url(#g53)" stroke="#000" stroke-width="1.3" />
<text x="168.2" y="1850" font-size="20.5" font-family="Carlito, Calibri, 'Liberation Sans', sans-serif" text-anchor="middle" textLength="52.92" lengthAdjust="spacingAndGlyphs">53BP1</text>
<circle cx="133.5" cy="1859.3" r="10.5" fill="#f5a24c" stroke="#000" stroke-width="1.1" />
<text x="133.5" y="1864.3" font-size="15" font-family="Carlito, Calibri, 'Liberation Sans', sans-serif" text-anchor="middle" textLength="20.3" lengthAdjust="spacingAndGlyphs">Me</text>
<circle cx="151.8" cy="1875" r="10.4" fill="#f5a24c" stroke="#000" stroke-width="1.1" />
<text x="151.8" y="1880" font-size="15" font-family="Carlito, Calibri, 'Liberation Sans', sans-serif" text-anchor="middle" textLength="17.52" lengthAdjust="spacingAndGlyphs">Ub</text>
<ellipse cx="223.7" cy="1822.6" rx="25.6" ry="16.1" fill="#00c8f8" stroke="#000" stroke-width="1.2" />
<text x="224.3" y="1827.8" font-size="19.5" font-family="Carlito, Calibri, 'Liberation Sans', sans-serif" text-anchor="middle" textLength="34.36" lengthAdjust="spacingAndGlyphs">RIF1</text>
<ellipse cx="261.2" cy="1827.6" rx="14.2" ry="9.2" fill="url(#gPink)" stroke="#000" stroke-width="1.1" />
<ellipse cx="274.9" cy="1839.2" rx="12.5" ry="7" fill="url(#gLav)" stroke="#000" stroke-width="1.1" />
<ellipse cx="281.4" cy="1863.4" rx="8.9" ry="20" fill="url(#gPink)" stroke="#000" stroke-width="1.1" />
<text x="294" y="1861.3" font-size="19.5" font-family="Carlito, Calibri, 'Liberation Sans', sans-serif" textLength="62.83" lengthAdjust="spacingAndGlyphs">Shieldin</text>
<ellipse cx="283.1" cy="1898.1" rx="27.9" ry="16.1" fill="url(#gPurp)" stroke="#000" stroke-width="1.2" />
<line x1="305.3" y1="1914.5" x2="325.97" y2="1950.02" stroke="#808080" stroke-width="2" />
<polygon points="330.5,1957.8 321.15,1951.67 326.73,1951.32 329.79,1946.64" fill="#808080" stroke="none" stroke-width="1" />
<ellipse cx="336.9" cy="1974.9" rx="22" ry="12.6" fill="#00a032" stroke="#000" stroke-width="1.2" />
<text x="337.5" y="1981.5" font-size="19" font-family="Carlito, Calibri, 'Liberation Sans', sans-serif" text-anchor="middle" textLength="28" lengthAdjust="spacingAndGlyphs">CST</text>
<line x1="361.1" y1="1963.4" x2="414.55" y2="1928.79" stroke="#808080" stroke-width="2" />
<polygon points="422.1,1923.9 416.42,1933.53 415.8,1927.98 410.99,1925.14" fill="#808080" stroke="none" stroke-width="1" />
<polygon points="407.6,1906 440,1902.8 440,1909.2" fill="#ee0000" stroke="none" stroke-width="1" />
<ellipse cx="433.7" cy="1889.5" rx="13" ry="29.3" fill="none" stroke="#1d3a5c" stroke-width="3.8" />
<ellipse cx="433.7" cy="1889.5" rx="13" ry="29.3" fill="none" stroke="#4f9deb" stroke-width="1.9" />
<ellipse cx="459.4" cy="1904.4" rx="23.1" ry="12.8" fill="url(#gPol)" stroke="#000" stroke-width="1.2" />
<text x="445" y="1870.2" font-size="19.5" font-family="Carlito, Calibri, 'Liberation Sans', sans-serif" textLength="44.34" lengthAdjust="spacingAndGlyphs">PCNA</text>
<text x="443" y="1934" font-size="19.5" font-family="Carlito, Calibri, 'Liberation Sans', sans-serif" textLength="111.05" lengthAdjust="spacingAndGlyphs">Polα/ Primase</text>
<line x1="552.8" y1="1812" x2="574.4" y2="1812" stroke="#808080" stroke-width="2" />
<polygon points="583.4,1812 573.4,1817 575.9,1812 573.4,1807" fill="#808080" stroke="none" stroke-width="1" />
<text x="640.2" y="1817" font-size="24.5" font-family="Carlito, Calibri, 'Liberation Sans', sans-serif" text-anchor="middle" font-weight="bold" textLength="91.17" lengthAdjust="spacingAndGlyphs">HR/STGC</text>
<text x="640" y="1847" font-size="24.5" font-family="Carlito, Calibri, 'Liberation Sans', sans-serif" text-anchor="middle" font-weight="bold" textLength="116.48" lengthAdjust="spacingAndGlyphs">(Dominant)</text>
<text x="648.3" y="1879.3" font-size="24.7" font-family="Carlito, Calibri, 'Liberation Sans', sans-serif" text-anchor="middle" textLength="176.8" lengthAdjust="spacingAndGlyphs">PIF1 independent</text>
<text x="908.2" y="1752.8" font-size="34" font-family="Carlito, Calibri, 'Liberation Sans', sans-serif" text-anchor="middle" fill="#a00000" textLength="145.56" lengthAdjust="spacingAndGlyphs">BIR signals</text>
<line x1="874.1" y1="1762" x2="874.1" y2="1779.5" stroke="#808080" stroke-width="2" />
<polygon points="874.1,1788.5 869.1,1778.5 874.1,1781 879.1,1778.5" fill="#808080" stroke="none" stroke-width="1" />
<text x="784" y="1809.7" font-size="24.6" font-family="Carlito, Calibri, 'Liberation Sans', sans-serif" textLength="222.34" lengthAdjust="spacingAndGlyphs">Modify the 53BP1 axis</text>
<text x="784" y="1833.2" font-size="24.6" font-family="Carlito, Calibri, 'Liberation Sans', sans-serif" textLength="305.14" lengthAdjust="spacingAndGlyphs">Directly regulate PCNA loading</text>
<text x="937" y="1863" font-size="24.6" font-family="Carlito, Calibri, 'Liberation Sans', sans-serif" text-anchor="middle" textLength="184.3" lengthAdjust="spacingAndGlyphs">and ubiquitiantion</text>
<line x1="874.1" y1="1870.5" x2="874.1" y2="1887.6" stroke="#808080" stroke-width="2" />
<polygon points="874.1,1896.6 869.1,1886.6 874.1,1889.1 879.1,1886.6" fill="#808080" stroke="none" stroke-width="1" />
<text x="892.6" y="1918.9" font-size="24.6" font-family="Carlito, Calibri, 'Liberation Sans', sans-serif" text-anchor="middle" textLength="202.59" lengthAdjust="spacingAndGlyphs">PCNA ubiquitination</text>
<text x="892.6" y="1950" font-size="24.6" font-family="Carlito, Calibri, 'Liberation Sans', sans-serif" text-anchor="middle" textLength="121.69" lengthAdjust="spacingAndGlyphs">PIF1 loading</text>
<line x1="874.1" y1="1958" x2="874.1" y2="1975.7" stroke="#808080" stroke-width="2" />
<polygon points="874.1,1984.7 869.1,1974.7 874.1,1977.2 879.1,1974.7" fill="#808080" stroke="none" stroke-width="1" />
<text x="889.5" y="2003.3" font-size="24.7" font-family="Carlito, Calibri, 'Liberation Sans', sans-serif" text-anchor="middle" font-weight="bold" fill="#a00000" textLength="201.05" lengthAdjust="spacingAndGlyphs">BIR/LTGC activation</text>
<ellipse cx="1078" cy="1929.5" rx="13" ry="29.2" fill="none" stroke="#1d3a5c" stroke-width="3.8" transform="rotate(-4 1078 1929.5)"/>
<ellipse cx="1078" cy="1929.5" rx="13" ry="29.2" fill="none" stroke="#4f9deb" stroke-width="1.9" transform="rotate(-4 1078 1929.5)"/>
<ellipse cx="1040.6" cy="1915.2" rx="29.8" ry="16.6" fill="url(#gPIF)" stroke="#000" stroke-width="1.2" />
<text x="1041.6" y="1921.8" font-size="20" font-family="Carlito, Calibri, 'Liberation Sans', sans-serif" text-anchor="middle" textLength="34.7" lengthAdjust="spacingAndGlyphs">PIF1</text>
<circle cx="1065.5" cy="1899.2" r="10.5" fill="#bcdaf6" stroke="#000" stroke-width="1.1" />
<text x="1065.5" y="1904.2" font-size="14.5" font-family="Carlito, Calibri, 'Liberation Sans', sans-serif" text-anchor="middle" textLength="16.92" lengthAdjust="spacingAndGlyphs">Ub</text>
<text x="1089" y="1909" font-size="19.5" font-family="Carlito, Calibri, 'Liberation Sans', sans-serif" textLength="44.34" lengthAdjust="spacingAndGlyphs">PCNA</text>
<line x1="1019.5" y1="2001" x2="1019.5" y2="2044.5" stroke="#808080" stroke-width="6.5" />
<polygon points="1019.5,2059.5 1011,2043.5 1019.5,2047.5 1028,2043.5" fill="#808080" stroke="none" stroke-width="1" />
<line x1="783.7" y1="2182.4" x2="817" y2="2182.4" stroke="#808080" stroke-width="6.5" />
<polygon points="832,2182.4 816,2190.9 820,2182.4 816,2173.9" fill="#808080" stroke="none" stroke-width="1" />
<text x="49.5" y="2088.6" font-size="34.4" font-family="Carlito, Calibri, 'Liberation Sans', sans-serif" textLength="219" lengthAdjust="spacingAndGlyphs">53BP1 deficient</text>
<text x="208" y="2130.5" font-size="24.7" font-family="Carlito, Calibri, 'Liberation Sans', sans-serif" font-weight="bold" textLength="326" lengthAdjust="spacingAndGlyphs">Stalled end fill-in DNA synthesis</text>
<line x1="543.4" y1="2123" x2="565.1" y2="2123" stroke="#808080" stroke-width="2" />
<polygon points="574.1,2123 564.1,2128 566.6,2123 564.1,2118" fill="#808080" stroke="none" stroke-width="1" />
<line x1="357" y1="2172.4" x2="357" y2="2150.4" stroke="#808080" stroke-width="2" />
<polygon points="357,2141.4 362,2151.4 357,2148.9 352,2151.4" fill="#808080" stroke="none" stroke-width="1" />
<line x1="357" y1="2291" x2="357" y2="2269.9" stroke="#808080" stroke-width="2" />
<polygon points="357,2260.9 362,2270.9 357,2268.4 352,2270.9" fill="#808080" stroke="none" stroke-width="1" />
<text x="683.5" y="2102.9" font-size="24.6" font-family="Carlito, Calibri, 'Liberation Sans', sans-serif" text-anchor="middle" textLength="195" lengthAdjust="spacingAndGlyphs">More PCNA loading</text>
<text x="683.3" y="2133.4" font-size="24.6" font-family="Carlito, Calibri, 'Liberation Sans', sans-serif" text-anchor="middle" textLength="202.59" lengthAdjust="spacingAndGlyphs">PCNA ubiquitination</text>
<text x="683.6" y="2164.7" font-size="24.6" font-family="Carlito, Calibri, 'Liberation Sans', sans-serif" text-anchor="middle" textLength="121.69" lengthAdjust="spacingAndGlyphs">PIF1 loading</text>
<line x1="679.5" y1="2176.4" x2="679.5" y2="2198.7" stroke="#808080" stroke-width="2" />
<polygon points="679.5,2207.7 674.5,2197.7 679.5,2200.2 684.5,2197.7" fill="#808080" stroke="none" stroke-width="1" />
<text x="694.2" y="2231.7" font-size="24.5" font-family="Carlito, Calibri, 'Liberation Sans', sans-serif" text-anchor="middle" font-weight="bold" fill="#a00000" textLength="210.27" lengthAdjust="spacingAndGlyphs">Hyperrecombination</text>
<text x="694.6" y="2261" font-size="24.5" font-family="Carlito, Calibri, 'Liberation Sans', sans-serif" text-anchor="middle" font-weight="bold" fill="#a00000" textLength="199.19" lengthAdjust="spacingAndGlyphs">BIR-like mechanism</text>
<text x="390.5" y="2310.5" font-size="24.6" font-family="Carlito, Calibri, 'Liberation Sans', sans-serif" text-anchor="middle" textLength="277.92" lengthAdjust="spacingAndGlyphs">53BP1-independent loading</text>
<line x1="59" y1="2216.1" x2="110" y2="2216.1" stroke="#000" stroke-width="3" />
<line x1="59" y1="2228.2" x2="110" y2="2228.2" stroke="#000" stroke-width="3" />
<line x1="140" y1="2213.3" x2="518.6" y2="2213.3" stroke="#000" stroke-width="3" />
<line x1="140" y1="2225" x2="172.9" y2="2225" stroke="#000" stroke-width="3" />
<g transform="translate(127 2215) rotate(57)">
<rect x="-30" y="-23" width="60" height="46" rx="9" ry="9" fill="url(#gNuc)"/>
<line x1="-33" y1="-6" x2="33" y2="-6" stroke="#1a80f0" stroke-width="3.6" />
<line x1="-33" y1="7" x2="33" y2="7" stroke="#1a80f0" stroke-width="3.6" />
</g>
<circle cx="131.9" cy="2177.6" r="10.3" fill="#f5a24c" stroke="#000" stroke-width="1.1" />
<text x="131.9" y="2182.6" font-size="15" font-family="Carlito, Calibri, 'Liberation Sans', sans-serif" text-anchor="middle" textLength="20.3" lengthAdjust="spacingAndGlyphs">Me</text>
<circle cx="150" cy="2193.2" r="10.3" fill="#f5a24c" stroke="#000" stroke-width="1.1" />
<text x="150" y="2198.2" font-size="15" font-family="Carlito, Calibri, 'Liberation Sans', sans-serif" text-anchor="middle" textLength="17.52" lengthAdjust="spacingAndGlyphs">Ub</text>
<ellipse cx="240.1" cy="2190" rx="29.6" ry="16.2" fill="url(#gPIF)" stroke="#000" stroke-width="1.2" />
<text x="241.1" y="2196.6" font-size="20" font-family="Carlito, Calibri, 'Liberation Sans', sans-serif" text-anchor="middle" textLength="34.7" lengthAdjust="spacingAndGlyphs">PIF1</text>
<polygon points="256.7,2224.5 285,2221.3 285,2227.7" fill="#ee0000" stroke="none" stroke-width="1" />
<ellipse cx="280.8" cy="2207.3" rx="12.9" ry="29.3" fill="none" stroke="#1d3a5c" stroke-width="3.8" />
<ellipse cx="280.8" cy="2207.3" rx="12.9" ry="29.3" fill="none" stroke="#4f9deb" stroke-width="1.9" />
<circle cx="267.9" cy="2177.9" r="10.2" fill="#bcdaf6" stroke="#000" stroke-width="1.1" />
<text x="267.9" y="2182.9" font-size="14.5" font-family="Carlito, Calibri, 'Liberation Sans', sans-serif" text-anchor="middle" textLength="16.92" lengthAdjust="spacingAndGlyphs">Ub</text>
<ellipse cx="306" cy="2222.5" rx="23.3" ry="12.9" fill="url(#gPol)" stroke="#000" stroke-width="1.2" />
<text x="292" y="2188.2" font-size="19.5" font-family="Carlito, Calibri, 'Liberation Sans', sans-serif" textLength="44.34" lengthAdjust="spacingAndGlyphs">PCNA</text>
<text x="262" y="2251.5" font-size="19.5" font-family="Carlito, Calibri, 'Liberation Sans', sans-serif" textLength="111.05" lengthAdjust="spacingAndGlyphs">Polα/ Primase</text>
<ellipse cx="390.6" cy="2190" rx="29.6" ry="16.2" fill="url(#gPIF)" stroke="#000" stroke-width="1.2" />
<text x="391.6" y="2196.6" font-size="20" font-family="Carlito, Calibri, 'Liberation Sans', sans-serif" text-anchor="middle" textLength="34.7" lengthAdjust="spacingAndGlyphs">PIF1</text>
<polygon points="407.2,2224.5 435.5,2221.3 435.5,2227.7" fill="#ee0000" stroke="none" stroke-width="1" />
<ellipse cx="431.3" cy="2207.3" rx="12.9" ry="29.3" fill="none" stroke="#1d3a5c" stroke-width="3.8" />
<ellipse cx="431.3" cy="2207.3" rx="12.9" ry="29.3" fill="none" stroke="#4f9deb" stroke-width="1.9" />
<circle cx="418.4" cy="2177.9" r="10.2" fill="#bcdaf6" stroke="#000" stroke-width="1.1" />
<text x="418.4" y="2182.9" font-size="14.5" font-family="Carlito, Calibri, 'Liberation Sans', sans-serif" text-anchor="middle" textLength="16.92" lengthAdjust="spacingAndGlyphs">Ub</text>
<ellipse cx="456.5" cy="2222.5" rx="23.3" ry="12.9" fill="url(#gPol)" stroke="#000" stroke-width="1.2" />
<text x="442.5" y="2188.2" font-size="19.5" font-family="Carlito, Calibri, 'Liberation Sans', sans-serif" textLength="44.34" lengthAdjust="spacingAndGlyphs">PCNA</text>
<text x="412.5" y="2251.5" font-size="19.5" font-family="Carlito, Calibri, 'Liberation Sans', sans-serif" textLength="111.05" lengthAdjust="spacingAndGlyphs">Polα/ Primase</text>
<text x="836.5" y="2101.7" font-size="32" font-family="Carlito, Calibri, 'Liberation Sans', sans-serif" fill="#a00000" textLength="42.84" lengthAdjust="spacingAndGlyphs">BIR</text>
<line x1="831.3" y1="2148" x2="882.5" y2="2148" stroke="#000" stroke-width="3" />
<line x1="925.2" y1="2148" x2="898.3" y2="2148" stroke="#000" stroke-width="3" />
<polygon points="889.9,2148 903.9,2142.5 899.7,2148 903.9,2153.5" fill="#000" stroke="none" stroke-width="1" />
<polyline points="831.3,2159.8 974.3,2159.8 987,2196" fill="none" stroke="#000" stroke-width="3" />
<polyline points="976,2196 989,2160.8 1022.8,2160.8 1039.4,2205.5 1151.6,2205.5" fill="none" stroke="#000" stroke-width="3" />
<line x1="1098.2" y1="2148" x2="1149.9" y2="2148" stroke="#000" stroke-width="3" />
<line x1="1064.7" y1="2160" x2="1149.9" y2="2160" stroke="#000" stroke-width="3" />
<line x1="832.6" y1="2206" x2="960" y2="2206" stroke="#000" stroke-width="3" />
<line x1="832.6" y1="2217.2" x2="1151.6" y2="2217.2" stroke="#000" stroke-width="3" />
<ellipse cx="1018.7" cy="2224.6" rx="13.3" ry="29" fill="none" stroke="#1d3a5c" stroke-width="3.8" transform="rotate(-3 1018.7 2224.6)"/>
<ellipse cx="1018.7" cy="2224.6" rx="13.3" ry="29" fill="none" stroke="#4f9deb" stroke-width="1.9" transform="rotate(-3 1018.7 2224.6)"/>
<ellipse cx="981.9" cy="2210.6" rx="29.4" ry="16.5" fill="url(#gPIF)" stroke="#000" stroke-width="1.2" />
<text x="982.9" y="2217.2" font-size="20" font-family="Carlito, Calibri, 'Liberation Sans', sans-serif" text-anchor="middle" textLength="34.7" lengthAdjust="spacingAndGlyphs">PIF1</text>
<polygon points="1030,2206.5 1012,2199.5 1012,2213.5" fill="#000" stroke="none" stroke-width="1" />
<circle cx="1005.9" cy="2194.8" r="10.6" fill="#bcdaf6" stroke="#000" stroke-width="1.1" />
<text x="1005.9" y="2199.8" font-size="14.5" font-family="Carlito, Calibri, 'Liberation Sans', sans-serif" text-anchor="middle" textLength="16.92" lengthAdjust="spacingAndGlyphs">Ub</text>
<text x="1035" y="2250" font-size="19.5" font-family="Carlito, Calibri, 'Liberation Sans', sans-serif" textLength="44.34" lengthAdjust="spacingAndGlyphs">PCNA</text>
<text x="1220" y="1631.3" font-size="39.3" font-family="Carlito, Calibri, 'Liberation Sans', sans-serif" font-weight="bold" textLength="393" lengthAdjust="spacingAndGlyphs">BIR activation at seDSBs</text>
<text x="1287.5" y="1678.5" font-size="39.3" font-family="Carlito, Calibri, 'Liberation Sans', sans-serif" font-weight="bold" textLength="257" lengthAdjust="spacingAndGlyphs">on broken forks</text>
<polyline points="1217,1753.2 1437.5,1753.2 1454.7,1779 1522.9,1779" fill="none" stroke="#000" stroke-width="3" />
<line x1="1217" y1="1764" x2="1376.9" y2="1764" stroke="#000" stroke-width="3" />
<polygon points="1386.8,1764 1370.3,1757.8 1375.25,1764 1370.3,1770.2" fill="#000" stroke="none" stroke-width="1" />
<polyline points="1217,1815.8 1425,1815.8 1446,1791.4 1523.5,1791.4" fill="none" stroke="#000" stroke-width="3" />
<line x1="1370.5" y1="1803.7" x2="1226.9" y2="1803.7" stroke="#000" stroke-width="3" />
<polygon points="1217,1803.7 1233.5,1797.5 1228.55,1803.7 1233.5,1809.9" fill="#000" stroke="none" stroke-width="1" />
<ellipse cx="1320.5" cy="1736.8" rx="46.5" ry="27.8" fill="url(#g53b)" stroke="#000" stroke-width="1.3" />
<text x="1320.5" y="1743.8" font-size="20" font-family="Carlito, Calibri, 'Liberation Sans', sans-serif" text-anchor="middle" textLength="51.63" lengthAdjust="spacingAndGlyphs">53BP1</text>
<ellipse cx="1407.9" cy="1819.2" rx="13.1" ry="29.4" fill="none" stroke="#1d3a5c" stroke-width="3.8" />
<ellipse cx="1407.9" cy="1819.2" rx="13.1" ry="29.4" fill="none" stroke="#4f9deb" stroke-width="1.9" />
<ellipse cx="1447.1" cy="1806.6" rx="29.5" ry="16.2" fill="url(#gPIF)" stroke="#000" stroke-width="1.2" />
<text x="1448.1" y="1813.2" font-size="19" font-family="Carlito, Calibri, 'Liberation Sans', sans-serif" text-anchor="middle" textLength="32.97" lengthAdjust="spacingAndGlyphs">PIF1</text>
<polygon points="1400.7,1803.7 1417,1797.2 1417,1810.2" fill="#000" stroke="none" stroke-width="1" />
<circle cx="1423.3" cy="1789.2" r="10.2" fill="#bcdaf6" stroke="#000" stroke-width="1.1" />
<text x="1423.3" y="1794.2" font-size="14.5" font-family="Carlito, Calibri, 'Liberation Sans', sans-serif" text-anchor="middle" textLength="16.92" lengthAdjust="spacingAndGlyphs">Ub</text>
<text x="1425" y="1844.6" font-size="19" font-family="Carlito, Calibri, 'Liberation Sans', sans-serif" textLength="43.22" lengthAdjust="spacingAndGlyphs">PCNA</text>
<line x1="1486.1" y1="1829" x2="1486.1" y2="1851" stroke="#808080" stroke-width="2" />
<polygon points="1486.1,1860 1481.1,1850 1486.1,1852.5 1491.1,1850" fill="#808080" stroke="none" stroke-width="1" />
<text x="1538.5" y="1788.2" font-size="27.6">Fork stalling</text>
<text x="1538.5" y="1826" font-size="27.6">PCNA ubiquitination</text>
<text x="1538.5" y="1855.9" font-size="27.6">PIF1 binding</text>
<line x1="1216.8" y1="1892" x2="1428" y2="1892" stroke="#000" stroke-width="3" />
<polyline points="1437.3,1893.9 1454.7,1917.7 1522,1917.7" fill="none" stroke="#000" stroke-width="3" />
<line x1="1216.8" y1="1905" x2="1377.1" y2="1905" stroke="#000" stroke-width="3" />
<polygon points="1387,1905 1370.5,1898.8 1375.45,1905 1370.5,1911.2" fill="#000" stroke="none" stroke-width="1" />
<polyline points="1216.8,1954.9 1425,1954.9 1446,1928.8 1522,1928.8" fill="none" stroke="#000" stroke-width="3" />
<line x1="1370.3" y1="1943" x2="1226.7" y2="1943" stroke="#000" stroke-width="3" />
<polygon points="1216.8,1943 1233.3,1936.8 1228.35,1943 1233.3,1949.2" fill="#000" stroke="none" stroke-width="1" />
<ellipse cx="1323.9" cy="1875.5" rx="46.5" ry="27.5" fill="url(#g53b)" stroke="#000" stroke-width="1.3" />
<text x="1323.9" y="1882.5" font-size="20" font-family="Carlito, Calibri, 'Liberation Sans', sans-serif" text-anchor="middle" textLength="51.63" lengthAdjust="spacingAndGlyphs">53BP1</text>
<ellipse cx="1409.6" cy="1956.9" rx="12.5" ry="28.8" fill="none" stroke="#1d3a5c" stroke-width="3.8" />
<ellipse cx="1409.6" cy="1956.9" rx="12.5" ry="28.8" fill="none" stroke="#4f9deb" stroke-width="1.9" />
<ellipse cx="1447.3" cy="1944.8" rx="29.7" ry="16" fill="url(#gPIF)" stroke="#000" stroke-width="1.2" />
<text x="1448.3" y="1951.4" font-size="19" font-family="Carlito, Calibri, 'Liberation Sans', sans-serif" text-anchor="middle" textLength="32.97" lengthAdjust="spacingAndGlyphs">PIF1</text>
<polygon points="1401,1943 1417,1936.5 1417,1949.5" fill="#000" stroke="none" stroke-width="1" />
<circle cx="1423.5" cy="1928" r="10.2" fill="#bcdaf6" stroke="#000" stroke-width="1.1" />
<text x="1423.5" y="1933" font-size="14.5" font-family="Carlito, Calibri, 'Liberation Sans', sans-serif" text-anchor="middle" textLength="16.92" lengthAdjust="spacingAndGlyphs">Ub</text>
<text x="1426" y="1983.1" font-size="19" font-family="Carlito, Calibri, 'Liberation Sans', sans-serif" textLength="43.22" lengthAdjust="spacingAndGlyphs">PCNA</text>
<line x1="1486.3" y1="1968.2" x2="1486.3" y2="1989.7" stroke="#808080" stroke-width="2" />
<polygon points="1486.3,1998.7 1481.3,1988.7 1486.3,1991.2 1491.3,1988.7" fill="#808080" stroke="none" stroke-width="1" />
<text x="1538.5" y="1927.3" font-size="27.6">Fork breakage</text>
<line x1="1216.8" y1="2028.5" x2="1400" y2="2028.5" stroke="#000" stroke-width="3" />
<line x1="1216.8" y1="2041.1" x2="1400" y2="2041.1" stroke="#000" stroke-width="3" />
<polyline points="1438,2072 1454.7,2055.6 1525.4,2055.6" fill="none" stroke="#000" stroke-width="3" />
<polyline points="1216.8,2092.4 1428,2092.4 1457.7,2067.5 1524.6,2067.5" fill="none" stroke="#000" stroke-width="3" />
<line x1="1372.2" y1="2080.5" x2="1226.7" y2="2080.5" stroke="#000" stroke-width="3" />
<polygon points="1216.8,2080.5 1233.3,2074.3 1228.35,2080.5 1233.3,2086.7" fill="#000" stroke="none" stroke-width="1" />
<ellipse cx="1402" cy="2024.4" rx="46.5" ry="27.5" fill="url(#g53b)" stroke="#000" stroke-width="1.3" />
<text x="1402" y="2031.4" font-size="20" font-family="Carlito, Calibri, 'Liberation Sans', sans-serif" text-anchor="middle" textLength="51.63" lengthAdjust="spacingAndGlyphs">53BP1</text>
<ellipse cx="1398.2" cy="2097.2" rx="12" ry="28.6" fill="none" stroke="#1d3a5c" stroke-width="3.8" />
<ellipse cx="1398.2" cy="2097.2" rx="12" ry="28.6" fill="none" stroke="#4f9deb" stroke-width="1.9" />
<ellipse cx="1435.8" cy="2084.6" rx="29.4" ry="15.3" fill="url(#gPIF)" stroke="#000" stroke-width="1.2" />
<text x="1436.8" y="2091.2" font-size="19" font-family="Carlito, Calibri, 'Liberation Sans', sans-serif" text-anchor="middle" textLength="32.97" lengthAdjust="spacingAndGlyphs">PIF1</text>
<polygon points="1390,2080.5 1406,2074 1406,2087" fill="#000" stroke="none" stroke-width="1" />
<circle cx="1414.2" cy="2066.8" r="10.2" fill="#bcdaf6" stroke="#000" stroke-width="1.1" />
<text x="1414.2" y="2071.8" font-size="14.5" font-family="Carlito, Calibri, 'Liberation Sans', sans-serif" text-anchor="middle" textLength="16.92" lengthAdjust="spacingAndGlyphs">Ub</text>
<text x="1416" y="2123.3" font-size="19" font-family="Carlito, Calibri, 'Liberation Sans', sans-serif" textLength="43.22" lengthAdjust="spacingAndGlyphs">PCNA</text>
<line x1="1486.3" y1="2098.4" x2="1486.3" y2="2119.9" stroke="#808080" stroke-width="2" />
<polygon points="1486.3,2128.9 1481.3,2118.9 1486.3,2121.4 1491.3,2118.9" fill="#808080" stroke="none" stroke-width="1" />
<text x="1539.3" y="2025.9" font-size="27.6">53BP1 relocalizes</text>
<text x="1539.3" y="2055.6" font-size="27.6">to DSB ends</text>
<text x="1317" y="2164.2" font-size="27.6">End resection</text>
<ellipse cx="1598.1" cy="2141.8" rx="54.1" ry="20.5" fill="url(#gSm)" stroke="#000" stroke-width="1.3" />
<text x="1596.8" y="2149.3" font-size="21" font-family="Carlito, Calibri, 'Liberation Sans', sans-serif" text-anchor="middle" textLength="97.89" lengthAdjust="spacingAndGlyphs">SMARCAD1</text>
<line x1="1216.8" y1="2175.3" x2="1268.8" y2="2175.3" stroke="#000" stroke-width="3" />
<line x1="1216.8" y1="2187.2" x2="1377.1" y2="2187.2" stroke="#000" stroke-width="3" />
<polygon points="1387,2187.2 1370.5,2181 1375.45,2187.2 1370.5,2193.4" fill="#000" stroke="none" stroke-width="1" />
<polyline points="1440,2222 1454.7,2203.9 1523.5,2203.9" fill="none" stroke="#000" stroke-width="3" />
<polyline points="1216.8,2239.2 1420,2239.2 1458.5,2215 1523.5,2215" fill="none" stroke="#000" stroke-width="3" />
<line x1="1387" y1="2228.8" x2="1226.7" y2="2228.8" stroke="#000" stroke-width="3" />
<polygon points="1216.8,2228.8 1233.3,2222.6 1228.35,2228.8 1233.3,2235" fill="#000" stroke="none" stroke-width="1" />
<ellipse cx="1381.2" cy="2243.8" rx="12.6" ry="28.8" fill="none" stroke="#1d3a5c" stroke-width="3.8" />
<ellipse cx="1381.2" cy="2243.8" rx="12.6" ry="28.8" fill="none" stroke="#4f9deb" stroke-width="1.9" />
<ellipse cx="1417.1" cy="2231.8" rx="29.4" ry="15.6" fill="url(#gPIF)" stroke="#000" stroke-width="1.2" />
<text x="1418.1" y="2238.4" font-size="19" font-family="Carlito, Calibri, 'Liberation Sans', sans-serif" text-anchor="middle" textLength="32.97" lengthAdjust="spacingAndGlyphs">PIF1</text>
<circle cx="1396.4" cy="2214" r="10.2" fill="#bcdaf6" stroke="#000" stroke-width="1.1" />
<text x="1396.4" y="2219" font-size="14.5" font-family="Carlito, Calibri, 'Liberation Sans', sans-serif" text-anchor="middle" textLength="16.92" lengthAdjust="spacingAndGlyphs">Ub</text>
<text x="1397.1" y="2268.2" font-size="19" font-family="Carlito, Calibri, 'Liberation Sans', sans-serif" textLength="43.22" lengthAdjust="spacingAndGlyphs">PCNA</text>
<line x1="1486.3" y1="2274.6" x2="1486.3" y2="2296.4" stroke="#808080" stroke-width="2" />
<polygon points="1486.3,2305.4 1481.3,2295.4 1486.3,2297.9 1491.3,2295.4" fill="#808080" stroke="none" stroke-width="1" />
<text x="1539.3" y="2200.2" font-size="27.6">SMARCAD1</text>
<text x="1539.3" y="2231" font-size="27.6">removes 53BP1</text>
<line x1="1215.3" y1="2299.8" x2="1266.2" y2="2299.8" stroke="#000" stroke-width="3" />
<line x1="1308.2" y1="2299.8" x2="1280.3" y2="2299.8" stroke="#000" stroke-width="3" />
<polygon points="1272.5,2299.8 1285.5,2293.6 1281.6,2299.8 1285.5,2306" fill="#000" stroke="none" stroke-width="1" />
<polyline points="1215.3,2311.7 1322.7,2311.7 1336.5,2357.1" fill="none" stroke="#000" stroke-width="3" />
<line x1="1335.8" y1="2357.1" x2="1365.6" y2="2357.1" stroke="#000" stroke-width="3" />
<polygon points="1374,2357.1 1360,2350.9 1364.2,2357.1 1360,2363.3" fill="#000" stroke="none" stroke-width="1" />
<polyline points="1215.3,2357.1 1322.7,2357.1 1336.9,2311.7 1370.3,2311.7 1388,2356 1410,2356" fill="none" stroke="#000" stroke-width="3" />
<line x1="1215.3" y1="2369.4" x2="1405.6" y2="2369.4" stroke="#000" stroke-width="3" />
<polyline points="1438,2352 1450.3,2332.2 1521,2332.2" fill="none" stroke="#000" stroke-width="3" />
<polyline points="1444,2360 1457.7,2343.3 1521,2343.3" fill="none" stroke="#000" stroke-width="3" />
<path d="M1370.3,2311.7 C1377,2289 1427,2284 1439.1,2334" fill="none" stroke="#1f62b8" stroke-width="2.3" stroke-dasharray="5.5,4"/>
<polygon points="1362.3,2318.3 1370,2321.3 1362.3,2330.8" fill="#1f62b8" stroke="none" stroke-width="1" />
<ellipse cx="1396.3" cy="2370.7" rx="12.3" ry="29.2" fill="none" stroke="#1d3a5c" stroke-width="3.8" />
<ellipse cx="1396.3" cy="2370.7" rx="12.3" ry="29.2" fill="none" stroke="#4f9deb" stroke-width="1.9" />
<ellipse cx="1432.8" cy="2358.2" rx="29.7" ry="15.6" fill="url(#gPIF)" stroke="#000" stroke-width="1.2" />
<text x="1433.8" y="2364.8" font-size="19" font-family="Carlito, Calibri, 'Liberation Sans', sans-serif" text-anchor="middle" textLength="32.97" lengthAdjust="spacingAndGlyphs">PIF1</text>
<circle cx="1412.3" cy="2341.5" r="10.2" fill="#bcdaf6" stroke="#000" stroke-width="1.1" />
<text x="1412.3" y="2346.5" font-size="14.5" font-family="Carlito, Calibri, 'Liberation Sans', sans-serif" text-anchor="middle" textLength="16.92" lengthAdjust="spacingAndGlyphs">Ub</text>
<text x="1411.2" y="2393.5" font-size="19" font-family="Carlito, Calibri, 'Liberation Sans', sans-serif" textLength="43.22" lengthAdjust="spacingAndGlyphs">PCNA</text>
<line x1="1485.6" y1="2417.7" x2="1485.6" y2="2440.3" stroke="#808080" stroke-width="2" />
<polygon points="1485.6,2449.3 1480.6,2439.3 1485.6,2441.8 1490.6,2439.3" fill="#808080" stroke="none" stroke-width="1" />
<text x="1539.3" y="2347.8" font-size="27.6">Strand invasion</text>
<line x1="1214.2" y1="2443" x2="1264.4" y2="2443" stroke="#000" stroke-width="3" />
<line x1="1308.2" y1="2443" x2="1280.3" y2="2443" stroke="#000" stroke-width="3" />
<polygon points="1272.5,2443 1285.5,2436.8 1281.6,2443 1285.5,2449.2" fill="#000" stroke="none" stroke-width="1" />
<polyline points="1214.2,2454.1 1356.2,2454.1 1366,2490" fill="none" stroke="#000" stroke-width="3" />
<polyline points="1359.2,2488.4 1372.2,2455.6 1404.9,2455.6 1422.4,2500.3 1435.4,2500.3 1454,2476.1 1519,2476.1" fill="none" stroke="#000" stroke-width="3" />
<line x1="1214.2" y1="2500.3" x2="1345" y2="2500.3" stroke="#000" stroke-width="3" />
<polyline points="1214.2,2512.5 1441,2512.5 1457,2487.2 1519,2487.2" fill="none" stroke="#000" stroke-width="3" />
<ellipse cx="1364" cy="2506.5" rx="29.7" ry="15.3" fill="url(#gPIF)" stroke="#000" stroke-width="1.2" />
<text x="1365" y="2513.1" font-size="19" font-family="Carlito, Calibri, 'Liberation Sans', sans-serif" text-anchor="middle" textLength="32.97" lengthAdjust="spacingAndGlyphs">PIF1</text>
<ellipse cx="1401.4" cy="2520.8" rx="12.5" ry="28.8" fill="none" stroke="#1d3a5c" stroke-width="3.8" />
<ellipse cx="1401.4" cy="2520.8" rx="12.5" ry="28.8" fill="none" stroke="#4f9deb" stroke-width="1.9" />
<polygon points="1409,2500.3 1392,2494 1392,2506.6" fill="#000" stroke="none" stroke-width="1" />
<circle cx="1388.2" cy="2490.2" r="10.2" fill="#bcdaf6" stroke="#000" stroke-width="1.1" />
<text x="1388.2" y="2495.2" font-size="14.5" font-family="Carlito, Calibri, 'Liberation Sans', sans-serif" text-anchor="middle" textLength="16.92" lengthAdjust="spacingAndGlyphs">Ub</text>
<text x="1417.5" y="2546" font-size="19" font-family="Carlito, Calibri, 'Liberation Sans', sans-serif" textLength="43.22" lengthAdjust="spacingAndGlyphs">PCNA</text>
<text x="1539.3" y="2472.7" font-size="27.6">PCNA-Ub/PIF1</text>
<text x="1539.3" y="2501.4" font-size="27.6">loading to DSB ends</text>
</svg>
</body></html>
